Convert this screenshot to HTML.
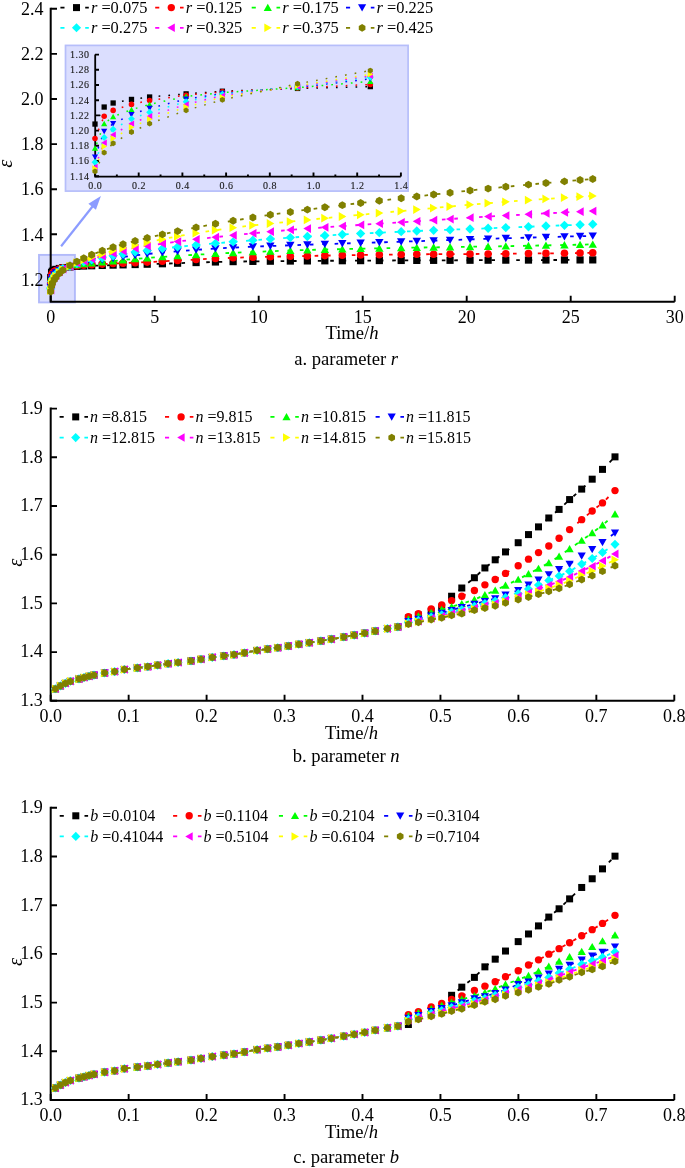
<!DOCTYPE html>
<html><head><meta charset="utf-8"><style>
html,body{margin:0;padding:0;background:#fff;width:685px;height:1168px;overflow:hidden}
svg{display:block;font-family:"Liberation Serif",serif;will-change:transform}
</style></head><body><svg width="685" height="1168" viewBox="0 0 685 1168"><rect x="39" y="254.9" width="35.9" height="47.5" fill="#dbdefe" stroke="#b2bafa" stroke-width="1.9"/><path d="M50.7,7.8V301.7H674.7" fill="none" stroke="#000" stroke-width="2"/><path d="M50.7,8.80h6.3M50.7,53.90h6.3M50.7,99.00h6.3M50.7,144.10h6.3M50.7,189.20h6.3M50.7,234.30h6.3M50.7,279.40h6.3M50.70,301.7v-6M154.70,301.7v-6M258.70,301.7v-6M362.70,301.7v-6M466.70,301.7v-6M570.70,301.7v-6M674.70,301.7v-6" stroke="#000" stroke-width="1.9" fill="none"/><g font-family="Liberation Serif" font-size="18" fill="#000"><text x="43.4" y="15.00" text-anchor="end">2.4</text><text x="43.4" y="60.10" text-anchor="end">2.2</text><text x="43.4" y="105.20" text-anchor="end">2.0</text><text x="43.4" y="150.30" text-anchor="end">1.8</text><text x="43.4" y="195.40" text-anchor="end">1.6</text><text x="43.4" y="240.50" text-anchor="end">1.4</text><text x="43.4" y="285.60" text-anchor="end">1.2</text><text x="50.70" y="323.2" text-anchor="middle">0</text><text x="154.70" y="323.2" text-anchor="middle">5</text><text x="258.70" y="323.2" text-anchor="middle">10</text><text x="362.70" y="323.2" text-anchor="middle">15</text><text x="466.70" y="323.2" text-anchor="middle">20</text><text x="570.70" y="323.2" text-anchor="middle">25</text><text x="674.70" y="323.2" text-anchor="middle">30</text><text x="352" y="339.4" text-anchor="middle" font-size="18.6">Time/<tspan font-style="italic">h</tspan></text><text x="346.1" y="364.6" text-anchor="middle" font-size="18.6">a. parameter <tspan font-style="italic">r</tspan></text><text transform="translate(12,163.8) rotate(-90)" text-anchor="middle" font-style="italic" font-size="20.5">ε</text></g><polyline points="50.70,277.46 51.57,272.41 52.43,271.21 54.17,270.15 55.90,269.43 59.37,268.51 62.83,267.72 69.98,266.88 76.91,266.34 83.77,266.02 91.68,265.74 102.28,265.42 113.10,265.10 123.08,264.84 135.15,264.53 147.21,264.20 162.40,263.73 177.58,263.20 196.09,262.55 215.44,261.97 233.12,261.61 252.88,261.36 270.35,261.19 290.32,261.03 307.37,260.91 324.84,260.80 342.32,260.71 360.62,260.62 379.34,260.53 401.18,260.45 416.78,260.39 433.63,260.34 450.06,260.29 470.03,260.24 488.12,260.19 505.80,260.14 528.48,260.07 545.95,260.02 564.46,259.97 580.06,259.93 592.75,259.89" fill="none" stroke="#000000" stroke-width="1.8" stroke-dasharray="3.6 8.8"/><rect x="47.10" y="273.86" width="7.20" height="7.20" fill="#000000"/><rect x="47.97" y="268.81" width="7.20" height="7.20" fill="#000000"/><rect x="48.83" y="267.61" width="7.20" height="7.20" fill="#000000"/><rect x="50.57" y="266.55" width="7.20" height="7.20" fill="#000000"/><rect x="52.30" y="265.83" width="7.20" height="7.20" fill="#000000"/><rect x="55.77" y="264.91" width="7.20" height="7.20" fill="#000000"/><rect x="59.23" y="264.12" width="7.20" height="7.20" fill="#000000"/><rect x="66.38" y="263.28" width="7.20" height="7.20" fill="#000000"/><rect x="73.31" y="262.74" width="7.20" height="7.20" fill="#000000"/><rect x="80.17" y="262.42" width="7.20" height="7.20" fill="#000000"/><rect x="88.08" y="262.14" width="7.20" height="7.20" fill="#000000"/><rect x="98.68" y="261.82" width="7.20" height="7.20" fill="#000000"/><rect x="109.50" y="261.50" width="7.20" height="7.20" fill="#000000"/><rect x="119.48" y="261.24" width="7.20" height="7.20" fill="#000000"/><rect x="131.55" y="260.93" width="7.20" height="7.20" fill="#000000"/><rect x="143.61" y="260.60" width="7.20" height="7.20" fill="#000000"/><rect x="158.80" y="260.13" width="7.20" height="7.20" fill="#000000"/><rect x="173.98" y="259.60" width="7.20" height="7.20" fill="#000000"/><rect x="192.49" y="258.95" width="7.20" height="7.20" fill="#000000"/><rect x="211.84" y="258.37" width="7.20" height="7.20" fill="#000000"/><rect x="229.52" y="258.01" width="7.20" height="7.20" fill="#000000"/><rect x="249.28" y="257.76" width="7.20" height="7.20" fill="#000000"/><rect x="266.75" y="257.59" width="7.20" height="7.20" fill="#000000"/><rect x="286.72" y="257.43" width="7.20" height="7.20" fill="#000000"/><rect x="303.77" y="257.31" width="7.20" height="7.20" fill="#000000"/><rect x="321.24" y="257.20" width="7.20" height="7.20" fill="#000000"/><rect x="338.72" y="257.11" width="7.20" height="7.20" fill="#000000"/><rect x="357.02" y="257.02" width="7.20" height="7.20" fill="#000000"/><rect x="375.74" y="256.93" width="7.20" height="7.20" fill="#000000"/><rect x="397.58" y="256.85" width="7.20" height="7.20" fill="#000000"/><rect x="413.18" y="256.79" width="7.20" height="7.20" fill="#000000"/><rect x="430.03" y="256.74" width="7.20" height="7.20" fill="#000000"/><rect x="446.46" y="256.69" width="7.20" height="7.20" fill="#000000"/><rect x="466.43" y="256.64" width="7.20" height="7.20" fill="#000000"/><rect x="484.52" y="256.59" width="7.20" height="7.20" fill="#000000"/><rect x="502.20" y="256.54" width="7.20" height="7.20" fill="#000000"/><rect x="524.88" y="256.47" width="7.20" height="7.20" fill="#000000"/><rect x="542.35" y="256.42" width="7.20" height="7.20" fill="#000000"/><rect x="560.86" y="256.37" width="7.20" height="7.20" fill="#000000"/><rect x="576.46" y="256.33" width="7.20" height="7.20" fill="#000000"/><rect x="589.15" y="256.29" width="7.20" height="7.20" fill="#000000"/><polyline points="50.70,281.75 51.57,275.12 52.43,273.40 54.17,271.62 55.90,270.45 59.37,268.89 62.83,267.90 69.98,266.77 76.91,265.71 83.77,265.14 91.68,264.66 102.28,264.11 113.10,263.58 123.08,263.14 135.15,262.64 147.21,262.10 162.40,261.34 177.58,260.50 196.09,259.48 215.44,258.50 233.12,257.80 252.88,257.20 270.35,256.74 290.32,256.29 307.37,255.95 324.84,255.62 342.32,255.30 360.62,254.99 379.34,254.71 401.18,254.44 416.78,254.30 433.63,254.19 450.06,254.11 470.03,254.02 488.12,253.92 505.80,253.78 528.48,253.57 545.95,253.38 564.46,253.17 580.06,252.96 592.75,252.79" fill="none" stroke="#ff0000" stroke-width="1.8" stroke-dasharray="3.6 8.8"/><circle cx="50.70" cy="281.75" r="3.78" fill="#ff0000"/><circle cx="51.57" cy="275.12" r="3.78" fill="#ff0000"/><circle cx="52.43" cy="273.40" r="3.78" fill="#ff0000"/><circle cx="54.17" cy="271.62" r="3.78" fill="#ff0000"/><circle cx="55.90" cy="270.45" r="3.78" fill="#ff0000"/><circle cx="59.37" cy="268.89" r="3.78" fill="#ff0000"/><circle cx="62.83" cy="267.90" r="3.78" fill="#ff0000"/><circle cx="69.98" cy="266.77" r="3.78" fill="#ff0000"/><circle cx="76.91" cy="265.71" r="3.78" fill="#ff0000"/><circle cx="83.77" cy="265.14" r="3.78" fill="#ff0000"/><circle cx="91.68" cy="264.66" r="3.78" fill="#ff0000"/><circle cx="102.28" cy="264.11" r="3.78" fill="#ff0000"/><circle cx="113.10" cy="263.58" r="3.78" fill="#ff0000"/><circle cx="123.08" cy="263.14" r="3.78" fill="#ff0000"/><circle cx="135.15" cy="262.64" r="3.78" fill="#ff0000"/><circle cx="147.21" cy="262.10" r="3.78" fill="#ff0000"/><circle cx="162.40" cy="261.34" r="3.78" fill="#ff0000"/><circle cx="177.58" cy="260.50" r="3.78" fill="#ff0000"/><circle cx="196.09" cy="259.48" r="3.78" fill="#ff0000"/><circle cx="215.44" cy="258.50" r="3.78" fill="#ff0000"/><circle cx="233.12" cy="257.80" r="3.78" fill="#ff0000"/><circle cx="252.88" cy="257.20" r="3.78" fill="#ff0000"/><circle cx="270.35" cy="256.74" r="3.78" fill="#ff0000"/><circle cx="290.32" cy="256.29" r="3.78" fill="#ff0000"/><circle cx="307.37" cy="255.95" r="3.78" fill="#ff0000"/><circle cx="324.84" cy="255.62" r="3.78" fill="#ff0000"/><circle cx="342.32" cy="255.30" r="3.78" fill="#ff0000"/><circle cx="360.62" cy="254.99" r="3.78" fill="#ff0000"/><circle cx="379.34" cy="254.71" r="3.78" fill="#ff0000"/><circle cx="401.18" cy="254.44" r="3.78" fill="#ff0000"/><circle cx="416.78" cy="254.30" r="3.78" fill="#ff0000"/><circle cx="433.63" cy="254.19" r="3.78" fill="#ff0000"/><circle cx="450.06" cy="254.11" r="3.78" fill="#ff0000"/><circle cx="470.03" cy="254.02" r="3.78" fill="#ff0000"/><circle cx="488.12" cy="253.92" r="3.78" fill="#ff0000"/><circle cx="505.80" cy="253.78" r="3.78" fill="#ff0000"/><circle cx="528.48" cy="253.57" r="3.78" fill="#ff0000"/><circle cx="545.95" cy="253.38" r="3.78" fill="#ff0000"/><circle cx="564.46" cy="253.17" r="3.78" fill="#ff0000"/><circle cx="580.06" cy="252.96" r="3.78" fill="#ff0000"/><circle cx="592.75" cy="252.79" r="3.78" fill="#ff0000"/><polyline points="50.70,284.63 51.57,277.37 52.43,275.27 54.17,273.18 55.90,271.62 59.37,269.28 62.83,268.12 69.98,266.66 76.91,264.81 83.77,263.83 91.68,263.01 102.28,262.04 113.10,260.97 123.08,260.02 135.15,258.94 147.21,257.98 162.40,256.89 177.58,255.87 196.09,254.73 215.44,253.66 233.12,252.79 252.88,251.92 270.35,251.22 290.32,250.52 307.37,249.99 324.84,249.53 342.32,249.10 360.62,248.69 379.34,248.31 401.18,247.89 416.78,247.60 433.63,247.32 450.06,247.07 470.03,246.77 488.12,246.48 505.80,246.16 528.48,245.73 545.95,245.38 564.46,245.00 580.06,244.66 592.75,244.38" fill="none" stroke="#00ff00" stroke-width="1.8" stroke-dasharray="3.6 8.8"/><path d="M50.70,280.67L54.91,288.05L46.49,288.05Z" fill="#00ff00"/><path d="M51.57,273.41L55.79,280.79L47.36,280.79Z" fill="#00ff00"/><path d="M52.43,271.31L56.64,278.69L48.21,278.69Z" fill="#00ff00"/><path d="M54.17,269.22L58.39,276.60L49.96,276.60Z" fill="#00ff00"/><path d="M55.90,267.66L60.11,275.04L51.69,275.04Z" fill="#00ff00"/><path d="M59.37,265.32L63.59,272.70L55.16,272.70Z" fill="#00ff00"/><path d="M62.83,264.17L67.04,271.55L58.61,271.55Z" fill="#00ff00"/><path d="M69.98,262.70L74.19,270.08L65.77,270.08Z" fill="#00ff00"/><path d="M76.91,260.85L81.12,268.23L72.70,268.23Z" fill="#00ff00"/><path d="M83.77,259.87L87.98,267.25L79.56,267.25Z" fill="#00ff00"/><path d="M91.68,259.05L95.89,266.43L87.46,266.43Z" fill="#00ff00"/><path d="M102.28,258.08L106.50,265.46L98.07,265.46Z" fill="#00ff00"/><path d="M113.10,257.01L117.31,264.39L108.89,264.39Z" fill="#00ff00"/><path d="M123.08,256.06L127.30,263.44L118.87,263.44Z" fill="#00ff00"/><path d="M135.15,254.98L139.36,262.36L130.94,262.36Z" fill="#00ff00"/><path d="M147.21,254.02L151.42,261.40L143.00,261.40Z" fill="#00ff00"/><path d="M162.40,252.93L166.61,260.31L158.18,260.31Z" fill="#00ff00"/><path d="M177.58,251.91L181.79,259.29L173.37,259.29Z" fill="#00ff00"/><path d="M196.09,250.77L200.30,258.15L191.88,258.15Z" fill="#00ff00"/><path d="M215.44,249.70L219.65,257.08L211.22,257.08Z" fill="#00ff00"/><path d="M233.12,248.83L237.33,256.21L228.90,256.21Z" fill="#00ff00"/><path d="M252.88,247.96L257.09,255.34L248.66,255.34Z" fill="#00ff00"/><path d="M270.35,247.26L274.56,254.64L266.14,254.64Z" fill="#00ff00"/><path d="M290.32,246.56L294.53,253.94L286.10,253.94Z" fill="#00ff00"/><path d="M307.37,246.03L311.58,253.41L303.16,253.41Z" fill="#00ff00"/><path d="M324.84,245.57L329.06,252.95L320.63,252.95Z" fill="#00ff00"/><path d="M342.32,245.14L346.53,252.52L338.10,252.52Z" fill="#00ff00"/><path d="M360.62,244.73L364.83,252.11L356.41,252.11Z" fill="#00ff00"/><path d="M379.34,244.35L383.55,251.73L375.13,251.73Z" fill="#00ff00"/><path d="M401.18,243.93L405.39,251.31L396.97,251.31Z" fill="#00ff00"/><path d="M416.78,243.64L420.99,251.02L412.57,251.02Z" fill="#00ff00"/><path d="M433.63,243.36L437.84,250.74L429.42,250.74Z" fill="#00ff00"/><path d="M450.06,243.11L454.27,250.49L445.85,250.49Z" fill="#00ff00"/><path d="M470.03,242.81L474.24,250.19L465.82,250.19Z" fill="#00ff00"/><path d="M488.12,242.52L492.34,249.90L483.91,249.90Z" fill="#00ff00"/><path d="M505.80,242.20L510.02,249.58L501.59,249.58Z" fill="#00ff00"/><path d="M528.48,241.77L532.69,249.15L524.26,249.15Z" fill="#00ff00"/><path d="M545.95,241.42L550.16,248.80L541.74,248.80Z" fill="#00ff00"/><path d="M564.46,241.04L568.67,248.42L560.25,248.42Z" fill="#00ff00"/><path d="M580.06,240.70L584.27,248.08L575.85,248.08Z" fill="#00ff00"/><path d="M592.75,240.42L596.96,247.80L588.54,247.80Z" fill="#00ff00"/><polyline points="50.70,287.20 51.57,279.63 52.43,277.33 54.17,274.60 55.90,272.79 59.37,270.06 62.83,268.35 69.98,266.55 76.91,264.07 83.77,262.63 91.68,261.38 102.28,259.89 113.10,258.31 123.08,256.90 135.15,255.34 147.21,254.01 162.40,252.59 177.58,251.29 196.09,249.87 215.44,248.59 233.12,247.60 252.88,246.69 270.35,246.00 290.32,245.29 307.37,244.70 324.84,244.10 342.32,243.53 360.62,242.96 379.34,242.38 401.18,241.70 416.78,241.20 433.63,240.63 450.06,240.07 470.03,239.39 488.12,238.81 505.80,238.28 528.48,237.61 545.95,237.12 564.46,236.62 580.06,236.22 592.75,235.90" fill="none" stroke="#0000ff" stroke-width="1.8" stroke-dasharray="3.6 8.8"/><path d="M50.70,291.16L54.91,283.78L46.49,283.78Z" fill="#0000ff"/><path d="M51.57,283.59L55.79,276.21L47.36,276.21Z" fill="#0000ff"/><path d="M52.43,281.29L56.64,273.91L48.21,273.91Z" fill="#0000ff"/><path d="M54.17,278.56L58.39,271.18L49.96,271.18Z" fill="#0000ff"/><path d="M55.90,276.75L60.11,269.37L51.69,269.37Z" fill="#0000ff"/><path d="M59.37,274.02L63.59,266.64L55.16,266.64Z" fill="#0000ff"/><path d="M62.83,272.31L67.04,264.93L58.61,264.93Z" fill="#0000ff"/><path d="M69.98,270.51L74.19,263.13L65.77,263.13Z" fill="#0000ff"/><path d="M76.91,268.03L81.12,260.65L72.70,260.65Z" fill="#0000ff"/><path d="M83.77,266.59L87.98,259.21L79.56,259.21Z" fill="#0000ff"/><path d="M91.68,265.34L95.89,257.96L87.46,257.96Z" fill="#0000ff"/><path d="M102.28,263.85L106.50,256.47L98.07,256.47Z" fill="#0000ff"/><path d="M113.10,262.27L117.31,254.89L108.89,254.89Z" fill="#0000ff"/><path d="M123.08,260.86L127.30,253.48L118.87,253.48Z" fill="#0000ff"/><path d="M135.15,259.30L139.36,251.92L130.94,251.92Z" fill="#0000ff"/><path d="M147.21,257.97L151.42,250.59L143.00,250.59Z" fill="#0000ff"/><path d="M162.40,256.55L166.61,249.17L158.18,249.17Z" fill="#0000ff"/><path d="M177.58,255.25L181.79,247.87L173.37,247.87Z" fill="#0000ff"/><path d="M196.09,253.83L200.30,246.45L191.88,246.45Z" fill="#0000ff"/><path d="M215.44,252.55L219.65,245.17L211.22,245.17Z" fill="#0000ff"/><path d="M233.12,251.56L237.33,244.18L228.90,244.18Z" fill="#0000ff"/><path d="M252.88,250.65L257.09,243.27L248.66,243.27Z" fill="#0000ff"/><path d="M270.35,249.96L274.56,242.58L266.14,242.58Z" fill="#0000ff"/><path d="M290.32,249.25L294.53,241.87L286.10,241.87Z" fill="#0000ff"/><path d="M307.37,248.66L311.58,241.28L303.16,241.28Z" fill="#0000ff"/><path d="M324.84,248.06L329.06,240.68L320.63,240.68Z" fill="#0000ff"/><path d="M342.32,247.49L346.53,240.11L338.10,240.11Z" fill="#0000ff"/><path d="M360.62,246.92L364.83,239.54L356.41,239.54Z" fill="#0000ff"/><path d="M379.34,246.34L383.55,238.96L375.13,238.96Z" fill="#0000ff"/><path d="M401.18,245.66L405.39,238.28L396.97,238.28Z" fill="#0000ff"/><path d="M416.78,245.16L420.99,237.78L412.57,237.78Z" fill="#0000ff"/><path d="M433.63,244.59L437.84,237.21L429.42,237.21Z" fill="#0000ff"/><path d="M450.06,244.03L454.27,236.65L445.85,236.65Z" fill="#0000ff"/><path d="M470.03,243.35L474.24,235.97L465.82,235.97Z" fill="#0000ff"/><path d="M488.12,242.77L492.34,235.39L483.91,235.39Z" fill="#0000ff"/><path d="M505.80,242.24L510.02,234.86L501.59,234.86Z" fill="#0000ff"/><path d="M528.48,241.57L532.69,234.19L524.26,234.19Z" fill="#0000ff"/><path d="M545.95,241.08L550.16,233.70L541.74,233.70Z" fill="#0000ff"/><path d="M564.46,240.58L568.67,233.20L560.25,233.20Z" fill="#0000ff"/><path d="M580.06,240.18L584.27,232.80L575.85,232.80Z" fill="#0000ff"/><path d="M592.75,239.86L596.96,232.48L588.54,232.48Z" fill="#0000ff"/><polyline points="50.70,288.78 51.57,281.43 52.43,279.02 54.17,275.90 55.90,273.97 59.37,270.83 62.83,268.58 69.98,266.32 76.91,263.61 83.77,261.71 91.68,259.88 102.28,257.75 113.10,255.72 123.08,253.97 135.15,252.07 147.21,250.40 162.40,248.56 177.58,246.90 196.09,245.06 215.44,243.31 233.12,241.81 252.88,240.23 270.35,238.94 290.32,237.57 307.37,236.51 324.84,235.50 342.32,234.54 360.62,233.60 379.34,232.69 401.18,231.69 416.78,231.01 433.63,230.32 450.06,229.70 470.03,228.98 488.12,228.30 505.80,227.62 528.48,226.74 545.95,226.05 564.46,225.32 580.06,224.70 592.75,224.20" fill="none" stroke="#00ffff" stroke-width="1.8" stroke-dasharray="3.6 8.8"/><path d="M50.70,284.10L55.38,288.78L50.70,293.46L46.02,288.78Z" fill="#00ffff"/><path d="M51.57,276.75L56.25,281.43L51.57,286.11L46.89,281.43Z" fill="#00ffff"/><path d="M52.43,274.34L57.11,279.02L52.43,283.70L47.75,279.02Z" fill="#00ffff"/><path d="M54.17,271.22L58.85,275.90L54.17,280.58L49.49,275.90Z" fill="#00ffff"/><path d="M55.90,269.29L60.58,273.97L55.90,278.65L51.22,273.97Z" fill="#00ffff"/><path d="M59.37,266.15L64.05,270.83L59.37,275.51L54.69,270.83Z" fill="#00ffff"/><path d="M62.83,263.90L67.51,268.58L62.83,273.26L58.15,268.58Z" fill="#00ffff"/><path d="M69.98,261.64L74.66,266.32L69.98,271.00L65.30,266.32Z" fill="#00ffff"/><path d="M76.91,258.93L81.59,263.61L76.91,268.29L72.23,263.61Z" fill="#00ffff"/><path d="M83.77,257.03L88.45,261.71L83.77,266.39L79.09,261.71Z" fill="#00ffff"/><path d="M91.68,255.20L96.36,259.88L91.68,264.56L87.00,259.88Z" fill="#00ffff"/><path d="M102.28,253.07L106.96,257.75L102.28,262.43L97.60,257.75Z" fill="#00ffff"/><path d="M113.10,251.04L117.78,255.72L113.10,260.40L108.42,255.72Z" fill="#00ffff"/><path d="M123.08,249.29L127.76,253.97L123.08,258.65L118.40,253.97Z" fill="#00ffff"/><path d="M135.15,247.39L139.83,252.07L135.15,256.75L130.47,252.07Z" fill="#00ffff"/><path d="M147.21,245.72L151.89,250.40L147.21,255.08L142.53,250.40Z" fill="#00ffff"/><path d="M162.40,243.88L167.08,248.56L162.40,253.24L157.72,248.56Z" fill="#00ffff"/><path d="M177.58,242.22L182.26,246.90L177.58,251.58L172.90,246.90Z" fill="#00ffff"/><path d="M196.09,240.38L200.77,245.06L196.09,249.74L191.41,245.06Z" fill="#00ffff"/><path d="M215.44,238.63L220.12,243.31L215.44,247.99L210.76,243.31Z" fill="#00ffff"/><path d="M233.12,237.13L237.80,241.81L233.12,246.49L228.44,241.81Z" fill="#00ffff"/><path d="M252.88,235.55L257.56,240.23L252.88,244.91L248.20,240.23Z" fill="#00ffff"/><path d="M270.35,234.26L275.03,238.94L270.35,243.62L265.67,238.94Z" fill="#00ffff"/><path d="M290.32,232.89L295.00,237.57L290.32,242.25L285.64,237.57Z" fill="#00ffff"/><path d="M307.37,231.83L312.05,236.51L307.37,241.19L302.69,236.51Z" fill="#00ffff"/><path d="M324.84,230.82L329.52,235.50L324.84,240.18L320.16,235.50Z" fill="#00ffff"/><path d="M342.32,229.86L347.00,234.54L342.32,239.22L337.64,234.54Z" fill="#00ffff"/><path d="M360.62,228.92L365.30,233.60L360.62,238.28L355.94,233.60Z" fill="#00ffff"/><path d="M379.34,228.01L384.02,232.69L379.34,237.37L374.66,232.69Z" fill="#00ffff"/><path d="M401.18,227.01L405.86,231.69L401.18,236.37L396.50,231.69Z" fill="#00ffff"/><path d="M416.78,226.33L421.46,231.01L416.78,235.69L412.10,231.01Z" fill="#00ffff"/><path d="M433.63,225.64L438.31,230.32L433.63,235.00L428.95,230.32Z" fill="#00ffff"/><path d="M450.06,225.02L454.74,229.70L450.06,234.38L445.38,229.70Z" fill="#00ffff"/><path d="M470.03,224.30L474.71,228.98L470.03,233.66L465.35,228.98Z" fill="#00ffff"/><path d="M488.12,223.62L492.80,228.30L488.12,232.98L483.44,228.30Z" fill="#00ffff"/><path d="M505.80,222.94L510.48,227.62L505.80,232.30L501.12,227.62Z" fill="#00ffff"/><path d="M528.48,222.06L533.16,226.74L528.48,231.42L523.80,226.74Z" fill="#00ffff"/><path d="M545.95,221.37L550.63,226.05L545.95,230.73L541.27,226.05Z" fill="#00ffff"/><path d="M564.46,220.64L569.14,225.32L564.46,230.00L559.78,225.32Z" fill="#00ffff"/><path d="M580.06,220.02L584.74,224.70L580.06,229.38L575.38,224.70Z" fill="#00ffff"/><path d="M592.75,219.52L597.43,224.20L592.75,228.88L588.07,224.20Z" fill="#00ffff"/><polyline points="50.70,290.18 51.57,283.01 52.43,280.60 54.17,277.33 55.90,275.12 59.37,271.62 62.83,269.03 69.98,266.32 76.91,263.16 83.77,260.93 91.68,258.79 102.28,256.17 113.10,253.46 123.08,251.02 135.15,248.31 147.21,246.03 162.40,243.66 177.58,241.57 196.09,239.30 215.44,237.15 233.12,235.29 252.88,233.31 270.35,231.68 290.32,229.96 307.37,228.59 324.84,227.29 342.32,226.08 360.62,224.88 379.34,223.69 401.18,222.30 416.78,221.29 433.63,220.16 450.06,219.04 470.03,217.72 488.12,216.60 505.80,215.57 528.48,214.31 545.95,213.37 564.46,212.43 580.06,211.68 592.75,211.10" fill="none" stroke="#ff00ff" stroke-width="1.8" stroke-dasharray="3.6 8.8"/><path d="M46.67,290.18L54.30,285.79L54.30,294.57Z" fill="#ff00ff"/><path d="M47.54,283.01L55.17,278.62L55.17,287.40Z" fill="#ff00ff"/><path d="M48.39,280.60L56.03,276.20L56.03,284.99Z" fill="#ff00ff"/><path d="M50.14,277.33L57.77,272.93L57.77,281.72Z" fill="#ff00ff"/><path d="M51.87,275.12L59.50,270.72L59.50,279.51Z" fill="#ff00ff"/><path d="M55.34,271.62L62.97,267.23L62.97,276.01Z" fill="#ff00ff"/><path d="M58.79,269.03L66.43,264.63L66.43,273.42Z" fill="#ff00ff"/><path d="M65.95,266.32L73.58,261.93L73.58,270.71Z" fill="#ff00ff"/><path d="M72.88,263.16L80.51,258.77L80.51,267.56Z" fill="#ff00ff"/><path d="M79.74,260.93L87.37,256.54L87.37,265.32Z" fill="#ff00ff"/><path d="M87.64,258.79L95.28,254.40L95.28,263.18Z" fill="#ff00ff"/><path d="M98.25,256.17L105.88,251.78L105.88,260.57Z" fill="#ff00ff"/><path d="M109.07,253.46L116.70,249.07L116.70,257.85Z" fill="#ff00ff"/><path d="M119.05,251.02L126.68,246.63L126.68,255.41Z" fill="#ff00ff"/><path d="M131.12,248.31L138.75,243.91L138.75,252.70Z" fill="#ff00ff"/><path d="M143.18,246.03L150.81,241.63L150.81,250.42Z" fill="#ff00ff"/><path d="M158.36,243.66L166.00,239.27L166.00,248.05Z" fill="#ff00ff"/><path d="M173.55,241.57L181.18,237.18L181.18,245.96Z" fill="#ff00ff"/><path d="M192.06,239.30L199.69,234.91L199.69,243.69Z" fill="#ff00ff"/><path d="M211.40,237.15L219.04,232.76L219.04,241.55Z" fill="#ff00ff"/><path d="M229.08,235.29L236.72,230.90L236.72,239.68Z" fill="#ff00ff"/><path d="M248.84,233.31L256.48,228.92L256.48,237.70Z" fill="#ff00ff"/><path d="M266.32,231.68L273.95,227.29L273.95,236.08Z" fill="#ff00ff"/><path d="M286.28,229.96L293.92,225.57L293.92,234.35Z" fill="#ff00ff"/><path d="M303.34,228.59L310.97,224.20L310.97,232.99Z" fill="#ff00ff"/><path d="M320.81,227.29L328.44,222.90L328.44,231.69Z" fill="#ff00ff"/><path d="M338.28,226.08L345.92,221.69L345.92,230.48Z" fill="#ff00ff"/><path d="M356.59,224.88L364.22,220.49L364.22,229.27Z" fill="#ff00ff"/><path d="M375.31,223.69L382.94,219.30L382.94,228.08Z" fill="#ff00ff"/><path d="M397.15,222.30L404.78,217.91L404.78,226.70Z" fill="#ff00ff"/><path d="M412.75,221.29L420.38,216.90L420.38,225.68Z" fill="#ff00ff"/><path d="M429.60,220.16L437.23,215.76L437.23,224.55Z" fill="#ff00ff"/><path d="M446.03,219.04L453.66,214.65L453.66,223.43Z" fill="#ff00ff"/><path d="M466.00,217.72L473.63,213.32L473.63,222.11Z" fill="#ff00ff"/><path d="M484.09,216.60L491.72,212.21L491.72,220.99Z" fill="#ff00ff"/><path d="M501.77,215.57L509.40,211.18L509.40,219.96Z" fill="#ff00ff"/><path d="M524.44,214.31L532.08,209.91L532.08,218.70Z" fill="#ff00ff"/><path d="M541.92,213.37L549.55,208.98L549.55,217.77Z" fill="#ff00ff"/><path d="M560.43,212.43L568.06,208.04L568.06,216.82Z" fill="#ff00ff"/><path d="M576.03,211.68L583.66,207.29L583.66,216.07Z" fill="#ff00ff"/><path d="M588.72,211.10L596.35,206.70L596.35,215.49Z" fill="#ff00ff"/><polyline points="50.70,290.68 51.57,284.14 52.43,281.75 54.17,278.39 55.90,276.04 59.37,272.41 62.83,269.48 69.98,266.10 76.91,262.71 83.77,260.03 91.68,257.30 102.28,254.01 113.10,250.85 123.08,248.10 135.15,245.03 147.21,242.31 162.40,239.22 177.58,236.34 196.09,233.13 215.44,230.13 233.12,227.69 252.88,225.34 270.35,223.51 290.32,221.55 307.37,219.89 324.84,218.17 342.32,216.50 360.62,214.78 379.34,213.04 401.18,211.04 416.78,209.61 433.63,208.04 450.06,206.50 470.03,204.69 488.12,203.18 505.80,201.81 528.48,200.13 545.95,198.90 564.46,197.67 580.06,196.70 592.75,195.97" fill="none" stroke="#ffff00" stroke-width="1.8" stroke-dasharray="3.6 8.8"/><path d="M54.73,290.68L47.10,286.28L47.10,295.07Z" fill="#ffff00"/><path d="M55.61,284.14L47.97,279.74L47.97,288.53Z" fill="#ffff00"/><path d="M56.46,281.75L48.83,277.35L48.83,286.14Z" fill="#ffff00"/><path d="M58.21,278.39L50.57,273.99L50.57,282.78Z" fill="#ffff00"/><path d="M59.93,276.04L52.30,271.65L52.30,280.43Z" fill="#ffff00"/><path d="M63.41,272.41L55.77,268.02L55.77,276.80Z" fill="#ffff00"/><path d="M66.86,269.48L59.23,265.09L59.23,273.87Z" fill="#ffff00"/><path d="M74.01,266.10L66.38,261.70L66.38,270.49Z" fill="#ffff00"/><path d="M80.94,262.71L73.31,258.32L73.31,267.10Z" fill="#ffff00"/><path d="M87.80,260.03L80.17,255.64L80.17,264.42Z" fill="#ffff00"/><path d="M95.71,257.30L88.08,252.91L88.08,261.69Z" fill="#ffff00"/><path d="M106.32,254.01L98.68,249.62L98.68,258.40Z" fill="#ffff00"/><path d="M117.13,250.85L109.50,246.45L109.50,255.24Z" fill="#ffff00"/><path d="M127.12,248.10L119.48,243.70L119.48,252.49Z" fill="#ffff00"/><path d="M139.18,245.03L131.55,240.64L131.55,249.42Z" fill="#ffff00"/><path d="M151.24,242.31L143.61,237.91L143.61,246.70Z" fill="#ffff00"/><path d="M166.43,239.22L158.80,234.83L158.80,243.61Z" fill="#ffff00"/><path d="M181.61,236.34L173.98,231.95L173.98,240.74Z" fill="#ffff00"/><path d="M200.12,233.13L192.49,228.74L192.49,237.53Z" fill="#ffff00"/><path d="M219.47,230.13L211.84,225.74L211.84,234.52Z" fill="#ffff00"/><path d="M237.15,227.69L229.52,223.30L229.52,232.08Z" fill="#ffff00"/><path d="M256.91,225.34L249.28,220.95L249.28,229.73Z" fill="#ffff00"/><path d="M274.38,223.51L266.75,219.11L266.75,227.90Z" fill="#ffff00"/><path d="M294.35,221.55L286.72,217.16L286.72,225.95Z" fill="#ffff00"/><path d="M311.40,219.89L303.77,215.50L303.77,224.28Z" fill="#ffff00"/><path d="M328.88,218.17L321.24,213.78L321.24,222.57Z" fill="#ffff00"/><path d="M346.35,216.50L338.72,212.11L338.72,220.89Z" fill="#ffff00"/><path d="M364.65,214.78L357.02,210.39L357.02,219.17Z" fill="#ffff00"/><path d="M383.37,213.04L375.74,208.65L375.74,217.44Z" fill="#ffff00"/><path d="M405.21,211.04L397.58,206.65L397.58,215.43Z" fill="#ffff00"/><path d="M420.81,209.61L413.18,205.22L413.18,214.00Z" fill="#ffff00"/><path d="M437.66,208.04L430.03,203.65L430.03,212.43Z" fill="#ffff00"/><path d="M454.09,206.50L446.46,202.11L446.46,210.89Z" fill="#ffff00"/><path d="M474.06,204.69L466.43,200.30L466.43,209.08Z" fill="#ffff00"/><path d="M492.16,203.18L484.52,198.79L484.52,207.57Z" fill="#ffff00"/><path d="M509.84,201.81L502.20,197.42L502.20,206.20Z" fill="#ffff00"/><path d="M532.51,200.13L524.88,195.74L524.88,204.52Z" fill="#ffff00"/><path d="M549.98,198.90L542.35,194.51L542.35,203.29Z" fill="#ffff00"/><path d="M568.49,197.67L560.86,193.28L560.86,202.06Z" fill="#ffff00"/><path d="M584.09,196.70L576.46,192.31L576.46,201.10Z" fill="#ffff00"/><path d="M596.78,195.97L589.15,191.57L589.15,200.36Z" fill="#ffff00"/><polyline points="50.70,291.51 51.57,285.94 52.43,283.17 54.17,279.81 55.90,277.33 59.37,273.40 62.83,270.27 69.98,265.51 76.91,261.59 83.77,258.28 91.68,254.82 102.28,250.76 113.10,247.18 123.08,244.20 135.15,240.91 147.21,237.91 162.40,234.39 177.58,231.11 196.09,227.40 215.44,223.80 233.12,220.70 252.88,217.47 270.35,214.80 290.32,211.94 307.37,209.61 324.84,207.33 342.32,205.16 360.62,202.97 379.34,200.79 401.18,198.29 416.78,196.51 433.63,194.57 450.06,192.69 470.03,190.48 488.12,188.59 505.80,186.83 528.48,184.64 545.95,183.02 564.46,181.37 580.06,180.04 592.75,179.01" fill="none" stroke="#808000" stroke-width="1.8" stroke-dasharray="3.6 8.8"/><path d="M50.70,287.55L54.13,289.53L54.13,293.49L50.70,295.47L47.27,293.49L47.27,289.53Z" fill="#808000"/><path d="M51.57,281.98L55.00,283.96L55.00,287.92L51.57,289.90L48.14,287.92L48.14,283.96Z" fill="#808000"/><path d="M52.43,279.21L55.86,281.19L55.86,285.15L52.43,287.13L49.00,285.15L49.00,281.19Z" fill="#808000"/><path d="M54.17,275.85L57.60,277.83L57.60,281.79L54.17,283.77L50.74,281.79L50.74,277.83Z" fill="#808000"/><path d="M55.90,273.37L59.33,275.35L59.33,279.31L55.90,281.29L52.47,279.31L52.47,275.35Z" fill="#808000"/><path d="M59.37,269.44L62.80,271.42L62.80,275.38L59.37,277.36L55.94,275.38L55.94,271.42Z" fill="#808000"/><path d="M62.83,266.31L66.26,268.29L66.26,272.25L62.83,274.23L59.40,272.25L59.40,268.29Z" fill="#808000"/><path d="M69.98,261.55L73.41,263.53L73.41,267.49L69.98,269.47L66.55,267.49L66.55,263.53Z" fill="#808000"/><path d="M76.91,257.63L80.34,259.61L80.34,263.57L76.91,265.55L73.48,263.57L73.48,259.61Z" fill="#808000"/><path d="M83.77,254.32L87.20,256.30L87.20,260.26L83.77,262.24L80.34,260.26L80.34,256.30Z" fill="#808000"/><path d="M91.68,250.86L95.11,252.84L95.11,256.80L91.68,258.78L88.25,256.80L88.25,252.84Z" fill="#808000"/><path d="M102.28,246.80L105.71,248.78L105.71,252.74L102.28,254.72L98.85,252.74L98.85,248.78Z" fill="#808000"/><path d="M113.10,243.22L116.53,245.20L116.53,249.16L113.10,251.14L109.67,249.16L109.67,245.20Z" fill="#808000"/><path d="M123.08,240.24L126.51,242.22L126.51,246.18L123.08,248.16L119.65,246.18L119.65,242.22Z" fill="#808000"/><path d="M135.15,236.95L138.58,238.93L138.58,242.89L135.15,244.87L131.72,242.89L131.72,238.93Z" fill="#808000"/><path d="M147.21,233.95L150.64,235.93L150.64,239.89L147.21,241.87L143.78,239.89L143.78,235.93Z" fill="#808000"/><path d="M162.40,230.43L165.83,232.41L165.83,236.37L162.40,238.35L158.97,236.37L158.97,232.41Z" fill="#808000"/><path d="M177.58,227.15L181.01,229.13L181.01,233.09L177.58,235.07L174.15,233.09L174.15,229.13Z" fill="#808000"/><path d="M196.09,223.44L199.52,225.42L199.52,229.38L196.09,231.36L192.66,229.38L192.66,225.42Z" fill="#808000"/><path d="M215.44,219.84L218.87,221.82L218.87,225.78L215.44,227.76L212.01,225.78L212.01,221.82Z" fill="#808000"/><path d="M233.12,216.74L236.55,218.72L236.55,222.68L233.12,224.66L229.69,222.68L229.69,218.72Z" fill="#808000"/><path d="M252.88,213.51L256.31,215.49L256.31,219.45L252.88,221.43L249.45,219.45L249.45,215.49Z" fill="#808000"/><path d="M270.35,210.84L273.78,212.82L273.78,216.78L270.35,218.76L266.92,216.78L266.92,212.82Z" fill="#808000"/><path d="M290.32,207.98L293.75,209.96L293.75,213.92L290.32,215.90L286.89,213.92L286.89,209.96Z" fill="#808000"/><path d="M307.37,205.65L310.80,207.63L310.80,211.59L307.37,213.57L303.94,211.59L303.94,207.63Z" fill="#808000"/><path d="M324.84,203.37L328.27,205.35L328.27,209.31L324.84,211.29L321.41,209.31L321.41,205.35Z" fill="#808000"/><path d="M342.32,201.20L345.75,203.18L345.75,207.14L342.32,209.12L338.89,207.14L338.89,203.18Z" fill="#808000"/><path d="M360.62,199.01L364.05,200.99L364.05,204.95L360.62,206.93L357.19,204.95L357.19,200.99Z" fill="#808000"/><path d="M379.34,196.83L382.77,198.81L382.77,202.77L379.34,204.75L375.91,202.77L375.91,198.81Z" fill="#808000"/><path d="M401.18,194.33L404.61,196.31L404.61,200.27L401.18,202.25L397.75,200.27L397.75,196.31Z" fill="#808000"/><path d="M416.78,192.55L420.21,194.53L420.21,198.49L416.78,200.47L413.35,198.49L413.35,194.53Z" fill="#808000"/><path d="M433.63,190.61L437.06,192.59L437.06,196.55L433.63,198.53L430.20,196.55L430.20,192.59Z" fill="#808000"/><path d="M450.06,188.73L453.49,190.71L453.49,194.67L450.06,196.65L446.63,194.67L446.63,190.71Z" fill="#808000"/><path d="M470.03,186.52L473.46,188.50L473.46,192.46L470.03,194.44L466.60,192.46L466.60,188.50Z" fill="#808000"/><path d="M488.12,184.63L491.55,186.61L491.55,190.57L488.12,192.55L484.69,190.57L484.69,186.61Z" fill="#808000"/><path d="M505.80,182.87L509.23,184.85L509.23,188.81L505.80,190.79L502.37,188.81L502.37,184.85Z" fill="#808000"/><path d="M528.48,180.68L531.91,182.66L531.91,186.62L528.48,188.60L525.05,186.62L525.05,182.66Z" fill="#808000"/><path d="M545.95,179.06L549.38,181.04L549.38,185.00L545.95,186.98L542.52,185.00L542.52,181.04Z" fill="#808000"/><path d="M564.46,177.41L567.89,179.39L567.89,183.35L564.46,185.33L561.03,183.35L561.03,179.39Z" fill="#808000"/><path d="M580.06,176.08L583.49,178.06L583.49,182.02L580.06,184.00L576.63,182.02L576.63,178.06Z" fill="#808000"/><path d="M592.75,175.05L596.18,177.03L596.18,180.99L592.75,182.97L589.32,180.99L589.32,177.03Z" fill="#808000"/><rect x="65.5" y="45.4" width="342.6" height="145.7" fill="#dbdefe" stroke="#b6befa" stroke-width="1.7"/><path d="M95.2,54.6V176.6H400.8" fill="none" stroke="#000" stroke-width="1.8"/><path d="M95,54.60h4M95,69.80h4M95,85.00h4M95,100.20h4M95,115.40h4M95,130.60h4M95,145.80h4M95,161.00h4M95,176.20h4M95.00,176.6v-4M138.70,176.6v-4M182.40,176.6v-4M226.10,176.6v-4M269.80,176.6v-4M313.50,176.6v-4M357.20,176.6v-4M400.90,176.6v-4M116.85,176.6v-2M160.55,176.6v-2M204.25,176.6v-2M247.95,176.6v-2M291.65,176.6v-2M335.35,176.6v-2M379.05,176.6v-2" stroke="#000" stroke-width="1.9" fill="none"/><g font-family="Liberation Serif" font-size="10" letter-spacing="0.5" fill="#1a1a1a" stroke="#1a1a1a" stroke-width="0.12"><text x="89.6" y="58.00" text-anchor="end">1.30</text><text x="89.6" y="73.20" text-anchor="end">1.28</text><text x="89.6" y="88.40" text-anchor="end">1.26</text><text x="89.6" y="103.60" text-anchor="end">1.24</text><text x="89.6" y="118.80" text-anchor="end">1.22</text><text x="89.6" y="134.00" text-anchor="end">1.20</text><text x="89.6" y="149.20" text-anchor="end">1.18</text><text x="89.6" y="164.40" text-anchor="end">1.16</text><text x="89.6" y="179.60" text-anchor="end">1.14</text><text x="95.30" y="189.2" text-anchor="middle">0.0</text><text x="139.00" y="189.2" text-anchor="middle">0.2</text><text x="182.70" y="189.2" text-anchor="middle">0.4</text><text x="226.40" y="189.2" text-anchor="middle">0.6</text><text x="270.10" y="189.2" text-anchor="middle">0.8</text><text x="313.80" y="189.2" text-anchor="middle">1.0</text><text x="357.50" y="189.2" text-anchor="middle">1.2</text><text x="401.20" y="189.2" text-anchor="middle">1.4</text></g><line x1="95.00" y1="124.06" x2="104.18" y2="107.04" stroke="#000000" stroke-width="1.5" stroke-dasharray="1.7 8.100000000000001" stroke-dashoffset="0.80"/><line x1="104.18" y1="107.04" x2="113.14" y2="103.01" stroke="#000000" stroke-width="1.5" stroke-dasharray="1.7 8.100000000000001" stroke-dashoffset="0.80"/><line x1="113.14" y1="103.01" x2="131.49" y2="99.44" stroke="#000000" stroke-width="1.5" stroke-dasharray="1.7 8.100000000000001" stroke-dashoffset="0.80"/><line x1="131.49" y1="99.44" x2="149.62" y2="97.01" stroke="#000000" stroke-width="1.5" stroke-dasharray="1.7 8.100000000000001" stroke-dashoffset="0.80"/><line x1="149.62" y1="97.01" x2="186.11" y2="93.89" stroke="#000000" stroke-width="1.5" stroke-dasharray="1.7 8.100000000000001" stroke-dashoffset="0.80"/><line x1="186.11" y1="93.89" x2="222.39" y2="91.23" stroke="#000000" stroke-width="1.5" stroke-dasharray="1.7 8.100000000000001" stroke-dashoffset="0.80"/><line x1="222.39" y1="91.23" x2="297.55" y2="88.42" stroke="#000000" stroke-width="1.5" stroke-dasharray="1.7 8.100000000000001" stroke-dashoffset="0.80"/><line x1="297.55" y1="88.42" x2="370.31" y2="86.60" stroke="#000000" stroke-width="1.5" stroke-dasharray="1.7 8.100000000000001" stroke-dashoffset="0.80"/><rect x="92.35" y="121.41" width="5.30" height="5.30" fill="#000000"/><rect x="101.53" y="104.39" width="5.30" height="5.30" fill="#000000"/><rect x="110.49" y="100.36" width="5.30" height="5.30" fill="#000000"/><rect x="128.84" y="96.79" width="5.30" height="5.30" fill="#000000"/><rect x="146.97" y="94.36" width="5.30" height="5.30" fill="#000000"/><rect x="183.46" y="91.24" width="5.30" height="5.30" fill="#000000"/><rect x="219.74" y="88.58" width="5.30" height="5.30" fill="#000000"/><rect x="294.90" y="85.77" width="5.30" height="5.30" fill="#000000"/><rect x="367.66" y="83.95" width="5.30" height="5.30" fill="#000000"/><line x1="95.00" y1="138.50" x2="104.18" y2="116.16" stroke="#ff0000" stroke-width="1.5" stroke-dasharray="1.7 8.100000000000001" stroke-dashoffset="0.80"/><line x1="104.18" y1="116.16" x2="113.14" y2="110.38" stroke="#ff0000" stroke-width="1.5" stroke-dasharray="1.7 8.100000000000001" stroke-dashoffset="0.80"/><line x1="113.14" y1="110.38" x2="131.49" y2="104.38" stroke="#ff0000" stroke-width="1.5" stroke-dasharray="1.7 8.100000000000001" stroke-dashoffset="0.80"/><line x1="131.49" y1="104.38" x2="149.62" y2="100.43" stroke="#ff0000" stroke-width="1.5" stroke-dasharray="1.7 8.100000000000001" stroke-dashoffset="0.80"/><line x1="149.62" y1="100.43" x2="186.11" y2="95.18" stroke="#ff0000" stroke-width="1.5" stroke-dasharray="1.7 8.100000000000001" stroke-dashoffset="0.80"/><line x1="186.11" y1="95.18" x2="222.39" y2="91.84" stroke="#ff0000" stroke-width="1.5" stroke-dasharray="1.7 8.100000000000001" stroke-dashoffset="0.80"/><line x1="222.39" y1="91.84" x2="297.55" y2="88.04" stroke="#ff0000" stroke-width="1.5" stroke-dasharray="1.7 8.100000000000001" stroke-dashoffset="0.80"/><line x1="297.55" y1="88.04" x2="370.31" y2="84.47" stroke="#ff0000" stroke-width="1.5" stroke-dasharray="1.7 8.100000000000001" stroke-dashoffset="0.80"/><circle cx="95.00" cy="138.50" r="2.78" fill="#ff0000"/><circle cx="104.18" cy="116.16" r="2.78" fill="#ff0000"/><circle cx="113.14" cy="110.38" r="2.78" fill="#ff0000"/><circle cx="131.49" cy="104.38" r="2.78" fill="#ff0000"/><circle cx="149.62" cy="100.43" r="2.78" fill="#ff0000"/><circle cx="186.11" cy="95.18" r="2.78" fill="#ff0000"/><circle cx="222.39" cy="91.84" r="2.78" fill="#ff0000"/><circle cx="297.55" cy="88.04" r="2.78" fill="#ff0000"/><circle cx="370.31" cy="84.47" r="2.78" fill="#ff0000"/><line x1="95.00" y1="148.23" x2="104.18" y2="123.76" stroke="#00ff00" stroke-width="1.5" stroke-dasharray="1.7 8.100000000000001" stroke-dashoffset="5.30"/><line x1="104.18" y1="123.76" x2="113.14" y2="116.69" stroke="#00ff00" stroke-width="1.5" stroke-dasharray="1.7 8.100000000000001" stroke-dashoffset="5.30"/><line x1="113.14" y1="116.69" x2="131.49" y2="109.62" stroke="#00ff00" stroke-width="1.5" stroke-dasharray="1.7 8.100000000000001" stroke-dashoffset="5.30"/><line x1="131.49" y1="109.62" x2="149.62" y2="104.38" stroke="#00ff00" stroke-width="1.5" stroke-dasharray="1.7 8.100000000000001" stroke-dashoffset="5.30"/><line x1="149.62" y1="104.38" x2="186.11" y2="96.48" stroke="#00ff00" stroke-width="1.5" stroke-dasharray="1.7 8.100000000000001" stroke-dashoffset="5.30"/><line x1="186.11" y1="96.48" x2="222.39" y2="92.60" stroke="#00ff00" stroke-width="1.5" stroke-dasharray="1.7 8.100000000000001" stroke-dashoffset="5.30"/><line x1="222.39" y1="92.60" x2="297.55" y2="87.66" stroke="#00ff00" stroke-width="1.5" stroke-dasharray="1.7 8.100000000000001" stroke-dashoffset="5.30"/><line x1="297.55" y1="87.66" x2="370.31" y2="81.43" stroke="#00ff00" stroke-width="1.5" stroke-dasharray="1.7 8.100000000000001" stroke-dashoffset="5.30"/><path d="M95.00,145.32L98.10,150.75L91.90,150.75Z" fill="#00ff00"/><path d="M104.18,120.84L107.28,126.28L101.08,126.28Z" fill="#00ff00"/><path d="M113.14,113.78L116.24,119.21L110.04,119.21Z" fill="#00ff00"/><path d="M131.49,106.71L134.59,112.14L128.39,112.14Z" fill="#00ff00"/><path d="M149.62,101.47L152.73,106.90L146.52,106.90Z" fill="#00ff00"/><path d="M186.11,93.56L189.22,98.99L183.01,98.99Z" fill="#00ff00"/><path d="M222.39,89.69L225.49,95.12L219.28,95.12Z" fill="#00ff00"/><path d="M297.55,84.75L300.65,90.18L294.45,90.18Z" fill="#00ff00"/><path d="M370.31,78.51L373.41,83.95L367.21,83.95Z" fill="#00ff00"/><line x1="95.00" y1="156.90" x2="104.18" y2="131.36" stroke="#0000ff" stroke-width="1.5" stroke-dasharray="1.7 8.100000000000001" stroke-dashoffset="0.80"/><line x1="104.18" y1="131.36" x2="113.14" y2="123.61" stroke="#0000ff" stroke-width="1.5" stroke-dasharray="1.7 8.100000000000001" stroke-dashoffset="0.80"/><line x1="113.14" y1="123.61" x2="131.49" y2="114.41" stroke="#0000ff" stroke-width="1.5" stroke-dasharray="1.7 8.100000000000001" stroke-dashoffset="0.80"/><line x1="131.49" y1="114.41" x2="149.62" y2="108.33" stroke="#0000ff" stroke-width="1.5" stroke-dasharray="1.7 8.100000000000001" stroke-dashoffset="0.80"/><line x1="149.62" y1="108.33" x2="186.11" y2="99.14" stroke="#0000ff" stroke-width="1.5" stroke-dasharray="1.7 8.100000000000001" stroke-dashoffset="0.80"/><line x1="186.11" y1="99.14" x2="222.39" y2="93.36" stroke="#0000ff" stroke-width="1.5" stroke-dasharray="1.7 8.100000000000001" stroke-dashoffset="0.80"/><line x1="222.39" y1="93.36" x2="297.55" y2="87.28" stroke="#0000ff" stroke-width="1.5" stroke-dasharray="1.7 8.100000000000001" stroke-dashoffset="0.80"/><line x1="297.55" y1="87.28" x2="370.31" y2="78.92" stroke="#0000ff" stroke-width="1.5" stroke-dasharray="1.7 8.100000000000001" stroke-dashoffset="0.80"/><path d="M95.00,159.81L98.10,154.38L91.90,154.38Z" fill="#0000ff"/><path d="M104.18,134.27L107.28,128.84L101.08,128.84Z" fill="#0000ff"/><path d="M113.14,126.52L116.24,121.09L110.04,121.09Z" fill="#0000ff"/><path d="M131.49,117.33L134.59,111.89L128.39,111.89Z" fill="#0000ff"/><path d="M149.62,111.25L152.73,105.81L146.52,105.81Z" fill="#0000ff"/><path d="M186.11,102.05L189.22,96.62L183.01,96.62Z" fill="#0000ff"/><path d="M222.39,96.27L225.49,90.84L219.28,90.84Z" fill="#0000ff"/><path d="M297.55,90.20L300.65,84.76L294.45,84.76Z" fill="#0000ff"/><path d="M370.31,81.84L373.41,76.40L367.21,76.40Z" fill="#0000ff"/><line x1="95.00" y1="162.22" x2="104.18" y2="137.44" stroke="#00ffff" stroke-width="1.5" stroke-dasharray="1.7 8.100000000000001" stroke-dashoffset="0.80"/><line x1="104.18" y1="137.44" x2="113.14" y2="129.31" stroke="#00ffff" stroke-width="1.5" stroke-dasharray="1.7 8.100000000000001" stroke-dashoffset="0.80"/><line x1="113.14" y1="129.31" x2="131.49" y2="118.82" stroke="#00ffff" stroke-width="1.5" stroke-dasharray="1.7 8.100000000000001" stroke-dashoffset="0.80"/><line x1="131.49" y1="118.82" x2="149.62" y2="112.28" stroke="#00ffff" stroke-width="1.5" stroke-dasharray="1.7 8.100000000000001" stroke-dashoffset="0.80"/><line x1="149.62" y1="112.28" x2="186.11" y2="101.72" stroke="#00ffff" stroke-width="1.5" stroke-dasharray="1.7 8.100000000000001" stroke-dashoffset="0.80"/><line x1="186.11" y1="101.72" x2="222.39" y2="94.12" stroke="#00ffff" stroke-width="1.5" stroke-dasharray="1.7 8.100000000000001" stroke-dashoffset="0.80"/><line x1="222.39" y1="94.12" x2="297.55" y2="86.52" stroke="#00ffff" stroke-width="1.5" stroke-dasharray="1.7 8.100000000000001" stroke-dashoffset="0.80"/><line x1="297.55" y1="86.52" x2="370.31" y2="77.40" stroke="#00ffff" stroke-width="1.5" stroke-dasharray="1.7 8.100000000000001" stroke-dashoffset="0.80"/><path d="M95.00,158.77L98.44,162.22L95.00,165.66L91.56,162.22Z" fill="#00ffff"/><path d="M104.18,134.00L107.62,137.44L104.18,140.88L100.73,137.44Z" fill="#00ffff"/><path d="M113.14,125.86L116.58,129.31L113.14,132.75L109.69,129.31Z" fill="#00ffff"/><path d="M131.49,115.38L134.93,118.82L131.49,122.27L128.04,118.82Z" fill="#00ffff"/><path d="M149.62,108.84L153.07,112.28L149.62,115.73L146.18,112.28Z" fill="#00ffff"/><path d="M186.11,98.28L189.56,101.72L186.11,105.17L182.67,101.72Z" fill="#00ffff"/><path d="M222.39,90.68L225.83,94.12L222.39,97.57L218.94,94.12Z" fill="#00ffff"/><path d="M297.55,83.08L300.99,86.52L297.55,89.97L294.10,86.52Z" fill="#00ffff"/><path d="M370.31,73.96L373.75,77.40L370.31,80.85L366.87,77.40Z" fill="#00ffff"/><line x1="95.00" y1="166.93" x2="104.18" y2="142.76" stroke="#ff00ff" stroke-width="1.5" stroke-dasharray="1.7 8.100000000000001" stroke-dashoffset="0.80"/><line x1="104.18" y1="142.76" x2="113.14" y2="134.63" stroke="#ff00ff" stroke-width="1.5" stroke-dasharray="1.7 8.100000000000001" stroke-dashoffset="0.80"/><line x1="113.14" y1="134.63" x2="131.49" y2="123.61" stroke="#ff00ff" stroke-width="1.5" stroke-dasharray="1.7 8.100000000000001" stroke-dashoffset="0.80"/><line x1="131.49" y1="123.61" x2="149.62" y2="116.16" stroke="#ff00ff" stroke-width="1.5" stroke-dasharray="1.7 8.100000000000001" stroke-dashoffset="0.80"/><line x1="149.62" y1="116.16" x2="186.11" y2="104.38" stroke="#ff00ff" stroke-width="1.5" stroke-dasharray="1.7 8.100000000000001" stroke-dashoffset="0.80"/><line x1="186.11" y1="104.38" x2="222.39" y2="95.64" stroke="#ff00ff" stroke-width="1.5" stroke-dasharray="1.7 8.100000000000001" stroke-dashoffset="0.80"/><line x1="222.39" y1="95.64" x2="297.55" y2="86.52" stroke="#ff00ff" stroke-width="1.5" stroke-dasharray="1.7 8.100000000000001" stroke-dashoffset="0.80"/><line x1="297.55" y1="86.52" x2="370.31" y2="75.88" stroke="#ff00ff" stroke-width="1.5" stroke-dasharray="1.7 8.100000000000001" stroke-dashoffset="0.80"/><path d="M92.03,166.93L97.65,163.70L97.65,170.16Z" fill="#ff00ff"/><path d="M101.21,142.76L106.83,139.53L106.83,145.99Z" fill="#ff00ff"/><path d="M110.17,134.63L115.79,131.39L115.79,137.86Z" fill="#ff00ff"/><path d="M128.52,123.61L134.14,120.38L134.14,126.84Z" fill="#ff00ff"/><path d="M146.66,116.16L152.28,112.93L152.28,119.39Z" fill="#ff00ff"/><path d="M183.15,104.38L188.76,101.15L188.76,107.61Z" fill="#ff00ff"/><path d="M219.42,95.64L225.04,92.41L225.04,98.87Z" fill="#ff00ff"/><path d="M294.58,86.52L300.20,83.29L300.20,89.75Z" fill="#ff00ff"/><path d="M367.34,75.88L372.96,72.65L372.96,79.11Z" fill="#ff00ff"/><line x1="95.00" y1="168.60" x2="104.18" y2="146.56" stroke="#ffff00" stroke-width="1.5" stroke-dasharray="1.7 8.100000000000001" stroke-dashoffset="0.80"/><line x1="104.18" y1="146.56" x2="113.14" y2="138.50" stroke="#ffff00" stroke-width="1.5" stroke-dasharray="1.7 8.100000000000001" stroke-dashoffset="0.80"/><line x1="113.14" y1="138.50" x2="131.49" y2="127.18" stroke="#ffff00" stroke-width="1.5" stroke-dasharray="1.7 8.100000000000001" stroke-dashoffset="0.80"/><line x1="131.49" y1="127.18" x2="149.62" y2="119.28" stroke="#ffff00" stroke-width="1.5" stroke-dasharray="1.7 8.100000000000001" stroke-dashoffset="0.80"/><line x1="149.62" y1="119.28" x2="186.11" y2="107.04" stroke="#ffff00" stroke-width="1.5" stroke-dasharray="1.7 8.100000000000001" stroke-dashoffset="0.80"/><line x1="186.11" y1="107.04" x2="222.39" y2="97.16" stroke="#ffff00" stroke-width="1.5" stroke-dasharray="1.7 8.100000000000001" stroke-dashoffset="0.80"/><line x1="222.39" y1="97.16" x2="297.55" y2="85.76" stroke="#ffff00" stroke-width="1.5" stroke-dasharray="1.7 8.100000000000001" stroke-dashoffset="0.80"/><line x1="297.55" y1="85.76" x2="370.31" y2="74.36" stroke="#ffff00" stroke-width="1.5" stroke-dasharray="1.7 8.100000000000001" stroke-dashoffset="0.80"/><path d="M97.97,168.60L92.35,165.37L92.35,171.83Z" fill="#ffff00"/><path d="M107.15,146.56L101.53,143.33L101.53,149.79Z" fill="#ffff00"/><path d="M116.10,138.50L110.49,135.27L110.49,141.74Z" fill="#ffff00"/><path d="M134.46,127.18L128.84,123.95L128.84,130.41Z" fill="#ffff00"/><path d="M152.59,119.28L146.97,116.04L146.97,122.51Z" fill="#ffff00"/><path d="M189.08,107.04L183.46,103.81L183.46,110.27Z" fill="#ffff00"/><path d="M225.35,97.16L219.74,93.93L219.74,100.39Z" fill="#ffff00"/><path d="M300.52,85.76L294.90,82.53L294.90,88.99Z" fill="#ffff00"/><path d="M373.28,74.36L367.66,71.13L367.66,77.59Z" fill="#ffff00"/><line x1="95.00" y1="171.41" x2="104.18" y2="152.64" stroke="#808000" stroke-width="1.5" stroke-dasharray="1.7 8.100000000000001" stroke-dashoffset="0.80"/><line x1="104.18" y1="152.64" x2="113.14" y2="143.29" stroke="#808000" stroke-width="1.5" stroke-dasharray="1.7 8.100000000000001" stroke-dashoffset="0.80"/><line x1="113.14" y1="143.29" x2="131.49" y2="131.97" stroke="#808000" stroke-width="1.5" stroke-dasharray="1.7 8.100000000000001" stroke-dashoffset="0.80"/><line x1="131.49" y1="131.97" x2="149.62" y2="123.61" stroke="#808000" stroke-width="1.5" stroke-dasharray="1.7 8.100000000000001" stroke-dashoffset="0.80"/><line x1="149.62" y1="123.61" x2="186.11" y2="110.38" stroke="#808000" stroke-width="1.5" stroke-dasharray="1.7 8.100000000000001" stroke-dashoffset="0.80"/><line x1="186.11" y1="110.38" x2="222.39" y2="99.82" stroke="#808000" stroke-width="1.5" stroke-dasharray="1.7 8.100000000000001" stroke-dashoffset="0.80"/><line x1="222.39" y1="99.82" x2="297.55" y2="83.78" stroke="#808000" stroke-width="1.5" stroke-dasharray="1.7 8.100000000000001" stroke-dashoffset="0.80"/><line x1="297.55" y1="83.78" x2="370.31" y2="70.56" stroke="#808000" stroke-width="1.5" stroke-dasharray="1.7 8.100000000000001" stroke-dashoffset="0.80"/><path d="M95.00,168.50L97.52,169.95L97.52,172.87L95.00,174.33L92.48,172.87L92.48,169.95Z" fill="#808000"/><path d="M104.18,149.73L106.70,151.18L106.70,154.10L104.18,155.56L101.65,154.10L101.65,151.18Z" fill="#808000"/><path d="M113.14,140.38L115.66,141.83L115.66,144.75L113.14,146.21L110.61,144.75L110.61,141.83Z" fill="#808000"/><path d="M131.49,129.05L134.01,130.51L134.01,133.43L131.49,134.88L128.97,133.43L128.97,130.51Z" fill="#808000"/><path d="M149.62,120.69L152.15,122.15L152.15,125.07L149.62,126.52L147.10,125.07L147.10,122.15Z" fill="#808000"/><path d="M186.11,107.47L188.64,108.93L188.64,111.84L186.11,113.30L183.59,111.84L183.59,108.93Z" fill="#808000"/><path d="M222.39,96.91L224.91,98.36L224.91,101.28L222.39,102.74L219.86,101.28L219.86,98.36Z" fill="#808000"/><path d="M297.55,80.87L300.07,82.33L300.07,85.24L297.55,86.70L295.03,85.24L295.03,82.33Z" fill="#808000"/><path d="M370.31,67.65L372.83,69.10L372.83,72.02L370.31,73.48L367.79,72.02L367.79,69.10Z" fill="#808000"/><path d="M61.1,246.3L93.3,205.5" stroke="#8c9cff" stroke-width="2.2" fill="none"/><path d="M100.9,196L88.4,203.8L95.9,209.8Z" fill="#8c9cff"/><path d="M60.40,7.60h4.1M85.20,7.60h3.6" stroke="#000000" stroke-width="1.8"/><rect x="73.00" y="4.10" width="7.00" height="7.00" fill="#000000"/><text x="90.90" y="13.10" font-family="Liberation Serif" font-size="16.4"><tspan font-style="italic">r</tspan> =0.075</text><path d="M155.20,7.60h4.1M180.00,7.60h3.6" stroke="#ff0000" stroke-width="1.8"/><circle cx="171.30" cy="7.60" r="3.68" fill="#ff0000"/><text x="185.70" y="13.10" font-family="Liberation Serif" font-size="16.4"><tspan font-style="italic">r</tspan> =0.125</text><path d="M251.70,7.60h4.1M276.50,7.60h3.6" stroke="#00ff00" stroke-width="1.8"/><path d="M267.80,3.75L271.90,10.92L263.70,10.92Z" fill="#00ff00"/><text x="282.20" y="13.10" font-family="Liberation Serif" font-size="16.4"><tspan font-style="italic">r</tspan> =0.175</text><path d="M346.00,7.60h4.1M370.80,7.60h3.6" stroke="#0000ff" stroke-width="1.8"/><path d="M362.10,11.45L366.20,4.28L358.00,4.28Z" fill="#0000ff"/><text x="376.50" y="13.10" font-family="Liberation Serif" font-size="16.4"><tspan font-style="italic">r</tspan> =0.225</text><path d="M60.40,27.80h4.1M85.20,27.80h3.6" stroke="#00ffff" stroke-width="1.8"/><path d="M76.50,23.25L81.05,27.80L76.50,32.35L71.95,27.80Z" fill="#00ffff"/><text x="90.90" y="33.30" font-family="Liberation Serif" font-size="16.4"><tspan font-style="italic">r</tspan> =0.275</text><path d="M155.20,27.80h4.1M180.00,27.80h3.6" stroke="#ff00ff" stroke-width="1.8"/><path d="M167.38,27.80L174.80,23.53L174.80,32.07Z" fill="#ff00ff"/><text x="185.70" y="33.30" font-family="Liberation Serif" font-size="16.4"><tspan font-style="italic">r</tspan> =0.325</text><path d="M251.70,27.80h4.1M276.50,27.80h3.6" stroke="#ffff00" stroke-width="1.8"/><path d="M271.72,27.80L264.30,23.53L264.30,32.07Z" fill="#ffff00"/><text x="282.20" y="33.30" font-family="Liberation Serif" font-size="16.4"><tspan font-style="italic">r</tspan> =0.375</text><path d="M346.00,27.80h4.1M370.80,27.80h3.6" stroke="#808000" stroke-width="1.8"/><path d="M362.10,23.95L365.43,25.88L365.43,29.73L362.10,31.65L358.77,29.73L358.77,25.88Z" fill="#808000"/><text x="376.50" y="33.30" font-family="Liberation Serif" font-size="16.4"><tspan font-style="italic">r</tspan> =0.425</text><path d="M50.7,407.60V700.80H674.4" fill="none" stroke="#000" stroke-width="2"/><path d="M50.7,700.80h6.3M50.7,652.10h6.3M50.7,603.40h6.3M50.7,554.70h6.3M50.7,506.00h6.3M50.7,457.30h6.3M50.7,408.60h6.3M50.70,700.80v-6M128.65,700.80v-6M206.60,700.80v-6M284.55,700.80v-6M362.50,700.80v-6M440.45,700.80v-6M518.40,700.80v-6M596.35,700.80v-6M674.30,700.80v-6" stroke="#000" stroke-width="1.9" fill="none"/><g font-family="Liberation Serif" font-size="18" fill="#000"><text x="42.7" y="706.10" text-anchor="end">1.3</text><text x="42.7" y="657.40" text-anchor="end">1.4</text><text x="42.7" y="608.70" text-anchor="end">1.5</text><text x="42.7" y="560.00" text-anchor="end">1.6</text><text x="42.7" y="511.30" text-anchor="end">1.7</text><text x="42.7" y="462.60" text-anchor="end">1.8</text><text x="42.7" y="413.90" text-anchor="end">1.9</text><text x="50.70" y="722.00" text-anchor="middle">0.0</text><text x="128.65" y="722.00" text-anchor="middle">0.1</text><text x="206.60" y="722.00" text-anchor="middle">0.2</text><text x="284.55" y="722.00" text-anchor="middle">0.3</text><text x="362.50" y="722.00" text-anchor="middle">0.4</text><text x="440.45" y="722.00" text-anchor="middle">0.5</text><text x="518.40" y="722.00" text-anchor="middle">0.6</text><text x="596.35" y="722.00" text-anchor="middle">0.7</text><text x="674.30" y="722.00" text-anchor="middle">0.8</text><text x="351.5" y="739.00" text-anchor="middle" font-size="18.6">Time/<tspan font-style="italic">h</tspan></text><text x="346.1" y="762.00" text-anchor="middle" font-size="18.6">b. parameter <tspan font-style="italic">n</tspan></text><text transform="translate(22,562.7) rotate(-90)" text-anchor="middle" font-style="italic" font-size="20.5">ε</text></g><polyline points="55.40,688.82 60.40,685.85 65.40,683.34 70.40,681.32 79.00,678.88 84.00,677.55 89.00,676.27 94.00,675.09 104.60,672.94 114.60,671.58 124.40,669.45 137.30,667.87 147.80,666.68 157.60,665.22 168.10,663.66 178.10,662.49 191.00,660.94 201.00,659.26 212.30,657.34 223.80,655.93 234.00,654.66 244.50,652.79 257.10,650.44 267.60,649.03 277.80,647.70 288.30,646.02 298.80,644.28 309.30,642.68 320.90,640.90 331.40,639.15 343.70,637.01 354.20,635.14 364.70,633.19 375.20,631.06 387.50,628.62 397.90,626.92 408.40,618.01 418.40,615.09 431.20,611.34 441.70,607.25 451.60,596.24 461.80,588.01 474.40,577.74 484.90,567.95 495.20,559.81 505.50,551.92 518.20,542.72 528.50,534.59 538.50,526.89 548.80,517.98 559.10,509.41 569.60,499.57 581.70,489.10 592.20,479.17 602.50,469.38 615.00,456.86" fill="none" stroke="#000000" stroke-width="1.8" stroke-dasharray="3.6 8.8"/><rect x="51.90" y="685.32" width="7.00" height="7.00" fill="#000000"/><rect x="56.90" y="682.35" width="7.00" height="7.00" fill="#000000"/><rect x="61.90" y="679.84" width="7.00" height="7.00" fill="#000000"/><rect x="66.90" y="677.82" width="7.00" height="7.00" fill="#000000"/><rect x="75.50" y="675.38" width="7.00" height="7.00" fill="#000000"/><rect x="80.50" y="674.05" width="7.00" height="7.00" fill="#000000"/><rect x="85.50" y="672.77" width="7.00" height="7.00" fill="#000000"/><rect x="90.50" y="671.59" width="7.00" height="7.00" fill="#000000"/><rect x="101.10" y="669.44" width="7.00" height="7.00" fill="#000000"/><rect x="111.10" y="668.08" width="7.00" height="7.00" fill="#000000"/><rect x="120.90" y="665.95" width="7.00" height="7.00" fill="#000000"/><rect x="133.80" y="664.37" width="7.00" height="7.00" fill="#000000"/><rect x="144.30" y="663.18" width="7.00" height="7.00" fill="#000000"/><rect x="154.10" y="661.72" width="7.00" height="7.00" fill="#000000"/><rect x="164.60" y="660.16" width="7.00" height="7.00" fill="#000000"/><rect x="174.60" y="658.99" width="7.00" height="7.00" fill="#000000"/><rect x="187.50" y="657.44" width="7.00" height="7.00" fill="#000000"/><rect x="197.50" y="655.76" width="7.00" height="7.00" fill="#000000"/><rect x="208.80" y="653.84" width="7.00" height="7.00" fill="#000000"/><rect x="220.30" y="652.43" width="7.00" height="7.00" fill="#000000"/><rect x="230.50" y="651.16" width="7.00" height="7.00" fill="#000000"/><rect x="241.00" y="649.29" width="7.00" height="7.00" fill="#000000"/><rect x="253.60" y="646.94" width="7.00" height="7.00" fill="#000000"/><rect x="264.10" y="645.53" width="7.00" height="7.00" fill="#000000"/><rect x="274.30" y="644.20" width="7.00" height="7.00" fill="#000000"/><rect x="284.80" y="642.52" width="7.00" height="7.00" fill="#000000"/><rect x="295.30" y="640.78" width="7.00" height="7.00" fill="#000000"/><rect x="305.80" y="639.18" width="7.00" height="7.00" fill="#000000"/><rect x="317.40" y="637.40" width="7.00" height="7.00" fill="#000000"/><rect x="327.90" y="635.65" width="7.00" height="7.00" fill="#000000"/><rect x="340.20" y="633.51" width="7.00" height="7.00" fill="#000000"/><rect x="350.70" y="631.64" width="7.00" height="7.00" fill="#000000"/><rect x="361.20" y="629.69" width="7.00" height="7.00" fill="#000000"/><rect x="371.70" y="627.56" width="7.00" height="7.00" fill="#000000"/><rect x="384.00" y="625.12" width="7.00" height="7.00" fill="#000000"/><rect x="394.40" y="623.42" width="7.00" height="7.00" fill="#000000"/><rect x="404.90" y="614.51" width="7.00" height="7.00" fill="#000000"/><rect x="414.90" y="611.59" width="7.00" height="7.00" fill="#000000"/><rect x="427.70" y="607.84" width="7.00" height="7.00" fill="#000000"/><rect x="438.20" y="603.75" width="7.00" height="7.00" fill="#000000"/><rect x="448.10" y="592.74" width="7.00" height="7.00" fill="#000000"/><rect x="458.30" y="584.51" width="7.00" height="7.00" fill="#000000"/><rect x="470.90" y="574.24" width="7.00" height="7.00" fill="#000000"/><rect x="481.40" y="564.45" width="7.00" height="7.00" fill="#000000"/><rect x="491.70" y="556.31" width="7.00" height="7.00" fill="#000000"/><rect x="502.00" y="548.42" width="7.00" height="7.00" fill="#000000"/><rect x="514.70" y="539.22" width="7.00" height="7.00" fill="#000000"/><rect x="525.00" y="531.09" width="7.00" height="7.00" fill="#000000"/><rect x="535.00" y="523.39" width="7.00" height="7.00" fill="#000000"/><rect x="545.30" y="514.48" width="7.00" height="7.00" fill="#000000"/><rect x="555.60" y="505.91" width="7.00" height="7.00" fill="#000000"/><rect x="566.10" y="496.07" width="7.00" height="7.00" fill="#000000"/><rect x="578.20" y="485.60" width="7.00" height="7.00" fill="#000000"/><rect x="588.70" y="475.67" width="7.00" height="7.00" fill="#000000"/><rect x="599.00" y="465.88" width="7.00" height="7.00" fill="#000000"/><rect x="611.50" y="453.36" width="7.00" height="7.00" fill="#000000"/><polyline points="55.40,688.82 60.40,685.85 65.40,683.34 70.40,681.32 79.00,678.88 84.00,677.55 89.00,676.27 94.00,675.09 104.60,672.94 114.60,671.58 124.40,669.45 137.30,667.87 147.80,666.68 157.60,665.22 168.10,663.66 178.10,662.49 191.00,660.94 201.00,659.26 212.30,657.34 223.80,655.93 234.00,654.66 244.50,652.79 257.10,650.44 267.60,649.03 277.80,647.70 288.30,646.02 298.80,644.28 309.30,642.68 320.90,640.90 331.40,639.15 343.70,637.01 354.20,635.14 364.70,633.19 375.20,631.06 387.50,628.62 397.90,626.92 408.40,616.65 418.40,613.72 431.20,608.85 441.70,604.96 451.60,600.62 461.80,596.24 474.40,590.45 484.90,584.85 495.20,579.54 505.50,573.40 518.20,565.71 528.50,559.13 538.50,552.61 548.80,545.98 559.10,538.29 569.60,529.57 581.70,519.68 592.20,510.97 602.50,502.88 615.00,490.56" fill="none" stroke="#ff0000" stroke-width="1.8" stroke-dasharray="3.6 8.8"/><circle cx="55.40" cy="688.82" r="3.68" fill="#ff0000"/><circle cx="60.40" cy="685.85" r="3.68" fill="#ff0000"/><circle cx="65.40" cy="683.34" r="3.68" fill="#ff0000"/><circle cx="70.40" cy="681.32" r="3.68" fill="#ff0000"/><circle cx="79.00" cy="678.88" r="3.68" fill="#ff0000"/><circle cx="84.00" cy="677.55" r="3.68" fill="#ff0000"/><circle cx="89.00" cy="676.27" r="3.68" fill="#ff0000"/><circle cx="94.00" cy="675.09" r="3.68" fill="#ff0000"/><circle cx="104.60" cy="672.94" r="3.68" fill="#ff0000"/><circle cx="114.60" cy="671.58" r="3.68" fill="#ff0000"/><circle cx="124.40" cy="669.45" r="3.68" fill="#ff0000"/><circle cx="137.30" cy="667.87" r="3.68" fill="#ff0000"/><circle cx="147.80" cy="666.68" r="3.68" fill="#ff0000"/><circle cx="157.60" cy="665.22" r="3.68" fill="#ff0000"/><circle cx="168.10" cy="663.66" r="3.68" fill="#ff0000"/><circle cx="178.10" cy="662.49" r="3.68" fill="#ff0000"/><circle cx="191.00" cy="660.94" r="3.68" fill="#ff0000"/><circle cx="201.00" cy="659.26" r="3.68" fill="#ff0000"/><circle cx="212.30" cy="657.34" r="3.68" fill="#ff0000"/><circle cx="223.80" cy="655.93" r="3.68" fill="#ff0000"/><circle cx="234.00" cy="654.66" r="3.68" fill="#ff0000"/><circle cx="244.50" cy="652.79" r="3.68" fill="#ff0000"/><circle cx="257.10" cy="650.44" r="3.68" fill="#ff0000"/><circle cx="267.60" cy="649.03" r="3.68" fill="#ff0000"/><circle cx="277.80" cy="647.70" r="3.68" fill="#ff0000"/><circle cx="288.30" cy="646.02" r="3.68" fill="#ff0000"/><circle cx="298.80" cy="644.28" r="3.68" fill="#ff0000"/><circle cx="309.30" cy="642.68" r="3.68" fill="#ff0000"/><circle cx="320.90" cy="640.90" r="3.68" fill="#ff0000"/><circle cx="331.40" cy="639.15" r="3.68" fill="#ff0000"/><circle cx="343.70" cy="637.01" r="3.68" fill="#ff0000"/><circle cx="354.20" cy="635.14" r="3.68" fill="#ff0000"/><circle cx="364.70" cy="633.19" r="3.68" fill="#ff0000"/><circle cx="375.20" cy="631.06" r="3.68" fill="#ff0000"/><circle cx="387.50" cy="628.62" r="3.68" fill="#ff0000"/><circle cx="397.90" cy="626.92" r="3.68" fill="#ff0000"/><circle cx="408.40" cy="616.65" r="3.68" fill="#ff0000"/><circle cx="418.40" cy="613.72" r="3.68" fill="#ff0000"/><circle cx="431.20" cy="608.85" r="3.68" fill="#ff0000"/><circle cx="441.70" cy="604.96" r="3.68" fill="#ff0000"/><circle cx="451.60" cy="600.62" r="3.68" fill="#ff0000"/><circle cx="461.80" cy="596.24" r="3.68" fill="#ff0000"/><circle cx="474.40" cy="590.45" r="3.68" fill="#ff0000"/><circle cx="484.90" cy="584.85" r="3.68" fill="#ff0000"/><circle cx="495.20" cy="579.54" r="3.68" fill="#ff0000"/><circle cx="505.50" cy="573.40" r="3.68" fill="#ff0000"/><circle cx="518.20" cy="565.71" r="3.68" fill="#ff0000"/><circle cx="528.50" cy="559.13" r="3.68" fill="#ff0000"/><circle cx="538.50" cy="552.61" r="3.68" fill="#ff0000"/><circle cx="548.80" cy="545.98" r="3.68" fill="#ff0000"/><circle cx="559.10" cy="538.29" r="3.68" fill="#ff0000"/><circle cx="569.60" cy="529.57" r="3.68" fill="#ff0000"/><circle cx="581.70" cy="519.68" r="3.68" fill="#ff0000"/><circle cx="592.20" cy="510.97" r="3.68" fill="#ff0000"/><circle cx="602.50" cy="502.88" r="3.68" fill="#ff0000"/><circle cx="615.00" cy="490.56" r="3.68" fill="#ff0000"/><polyline points="55.40,688.82 60.40,685.85 65.40,683.34 70.40,681.32 79.00,678.88 84.00,677.55 89.00,676.27 94.00,675.09 104.60,672.94 114.60,671.58 124.40,669.45 137.30,667.87 147.80,666.68 157.60,665.22 168.10,663.66 178.10,662.49 191.00,660.94 201.00,659.26 212.30,657.34 223.80,655.93 234.00,654.66 244.50,652.79 257.10,650.44 267.60,649.03 277.80,647.70 288.30,646.02 298.80,644.28 309.30,642.68 320.90,640.90 331.40,639.15 343.70,637.01 354.20,635.14 364.70,633.19 375.20,631.06 387.50,628.62 397.90,626.92 408.40,618.98 418.40,616.06 431.20,612.56 441.70,609.63 451.60,606.76 461.80,603.74 474.40,599.65 484.90,594.83 495.20,590.45 505.50,585.43 518.20,579.54 528.50,573.84 538.50,568.53 548.80,562.93 559.10,556.31 569.60,548.81 581.70,540.48 592.20,532.88 602.50,525.19 615.00,514.18" fill="none" stroke="#00ff00" stroke-width="1.8" stroke-dasharray="3.6 8.8"/><path d="M55.40,684.97L59.49,692.14L51.30,692.14Z" fill="#00ff00"/><path d="M60.40,682.00L64.50,689.17L56.30,689.17Z" fill="#00ff00"/><path d="M65.40,679.49L69.50,686.66L61.31,686.66Z" fill="#00ff00"/><path d="M70.40,677.47L74.50,684.64L66.31,684.64Z" fill="#00ff00"/><path d="M79.00,675.03L83.09,682.21L74.91,682.21Z" fill="#00ff00"/><path d="M84.00,673.70L88.09,680.88L79.91,680.88Z" fill="#00ff00"/><path d="M89.00,672.42L93.09,679.60L84.91,679.60Z" fill="#00ff00"/><path d="M94.00,671.24L98.09,678.41L89.91,678.41Z" fill="#00ff00"/><path d="M104.60,669.09L108.69,676.27L100.50,676.27Z" fill="#00ff00"/><path d="M114.60,667.73L118.69,674.90L110.50,674.90Z" fill="#00ff00"/><path d="M124.40,665.60L128.50,672.78L120.31,672.78Z" fill="#00ff00"/><path d="M137.30,664.02L141.40,671.20L133.21,671.20Z" fill="#00ff00"/><path d="M147.80,662.83L151.90,670.01L143.71,670.01Z" fill="#00ff00"/><path d="M157.60,661.37L161.69,668.55L153.50,668.55Z" fill="#00ff00"/><path d="M168.10,659.81L172.19,666.99L164.00,666.99Z" fill="#00ff00"/><path d="M178.10,658.64L182.19,665.81L174.00,665.81Z" fill="#00ff00"/><path d="M191.00,657.09L195.09,664.27L186.91,664.27Z" fill="#00ff00"/><path d="M201.00,655.41L205.09,662.59L196.91,662.59Z" fill="#00ff00"/><path d="M212.30,653.49L216.40,660.66L208.21,660.66Z" fill="#00ff00"/><path d="M223.80,652.08L227.90,659.26L219.71,659.26Z" fill="#00ff00"/><path d="M234.00,650.81L238.09,657.98L229.91,657.98Z" fill="#00ff00"/><path d="M244.50,648.94L248.59,656.12L240.41,656.12Z" fill="#00ff00"/><path d="M257.10,646.59L261.20,653.77L253.01,653.77Z" fill="#00ff00"/><path d="M267.60,645.18L271.70,652.36L263.50,652.36Z" fill="#00ff00"/><path d="M277.80,643.85L281.90,651.03L273.70,651.03Z" fill="#00ff00"/><path d="M288.30,642.17L292.40,649.34L284.20,649.34Z" fill="#00ff00"/><path d="M298.80,640.43L302.90,647.60L294.70,647.60Z" fill="#00ff00"/><path d="M309.30,638.83L313.40,646.01L305.20,646.01Z" fill="#00ff00"/><path d="M320.90,637.05L325.00,644.22L316.80,644.22Z" fill="#00ff00"/><path d="M331.40,635.30L335.50,642.48L327.30,642.48Z" fill="#00ff00"/><path d="M343.70,633.16L347.80,640.34L339.60,640.34Z" fill="#00ff00"/><path d="M354.20,631.29L358.30,638.46L350.10,638.46Z" fill="#00ff00"/><path d="M364.70,629.34L368.80,636.51L360.60,636.51Z" fill="#00ff00"/><path d="M375.20,627.21L379.30,634.38L371.10,634.38Z" fill="#00ff00"/><path d="M387.50,624.77L391.60,631.94L383.40,631.94Z" fill="#00ff00"/><path d="M397.90,623.07L402.00,630.25L393.80,630.25Z" fill="#00ff00"/><path d="M408.40,615.13L412.50,622.31L404.30,622.31Z" fill="#00ff00"/><path d="M418.40,612.21L422.50,619.39L414.30,619.39Z" fill="#00ff00"/><path d="M431.20,608.71L435.30,615.88L427.10,615.88Z" fill="#00ff00"/><path d="M441.70,605.78L445.80,612.96L437.60,612.96Z" fill="#00ff00"/><path d="M451.60,602.91L455.70,610.09L447.50,610.09Z" fill="#00ff00"/><path d="M461.80,599.89L465.90,607.07L457.70,607.07Z" fill="#00ff00"/><path d="M474.40,595.80L478.50,602.98L470.30,602.98Z" fill="#00ff00"/><path d="M484.90,590.98L489.00,598.15L480.80,598.15Z" fill="#00ff00"/><path d="M495.20,586.60L499.30,593.77L491.10,593.77Z" fill="#00ff00"/><path d="M505.50,581.58L509.60,588.75L501.40,588.75Z" fill="#00ff00"/><path d="M518.20,575.69L522.30,582.86L514.11,582.86Z" fill="#00ff00"/><path d="M528.50,569.99L532.60,577.16L524.40,577.16Z" fill="#00ff00"/><path d="M538.50,564.68L542.60,571.86L534.40,571.86Z" fill="#00ff00"/><path d="M548.80,559.08L552.89,566.26L544.70,566.26Z" fill="#00ff00"/><path d="M559.10,552.46L563.20,559.63L555.00,559.63Z" fill="#00ff00"/><path d="M569.60,544.96L573.70,552.13L565.50,552.13Z" fill="#00ff00"/><path d="M581.70,536.63L585.80,543.80L577.61,543.80Z" fill="#00ff00"/><path d="M592.20,529.03L596.30,536.21L588.11,536.21Z" fill="#00ff00"/><path d="M602.50,521.34L606.60,528.51L598.40,528.51Z" fill="#00ff00"/><path d="M615.00,510.33L619.10,517.51L610.90,517.51Z" fill="#00ff00"/><polyline points="55.40,688.82 60.40,685.85 65.40,683.34 70.40,681.32 79.00,678.88 84.00,677.55 89.00,676.27 94.00,675.09 104.60,672.94 114.60,671.58 124.40,669.45 137.30,667.87 147.80,666.68 157.60,665.22 168.10,663.66 178.10,662.49 191.00,660.94 201.00,659.26 212.30,657.34 223.80,655.93 234.00,654.66 244.50,652.79 257.10,650.44 267.60,649.03 277.80,647.70 288.30,646.02 298.80,644.28 309.30,642.68 320.90,640.90 331.40,639.15 343.70,637.01 354.20,635.14 364.70,633.19 375.20,631.06 387.50,628.62 397.90,626.92 408.40,621.37 418.40,618.98 431.20,615.77 441.70,613.14 451.60,610.22 461.80,607.30 474.40,604.13 484.90,601.21 495.20,598.53 505.50,594.83 518.20,590.45 528.50,584.85 538.50,579.93 548.80,574.52 559.10,569.41 569.60,564.20 581.70,555.82 592.20,549.29 602.50,542.28 615.00,532.88" fill="none" stroke="#0000ff" stroke-width="1.8" stroke-dasharray="3.6 8.8"/><path d="M55.40,692.67L59.49,685.49L51.30,685.49Z" fill="#0000ff"/><path d="M60.40,689.70L64.50,682.52L56.30,682.52Z" fill="#0000ff"/><path d="M65.40,687.19L69.50,680.01L61.31,680.01Z" fill="#0000ff"/><path d="M70.40,685.17L74.50,677.99L66.31,677.99Z" fill="#0000ff"/><path d="M79.00,682.74L83.09,675.56L74.91,675.56Z" fill="#0000ff"/><path d="M84.00,681.40L88.09,674.23L79.91,674.23Z" fill="#0000ff"/><path d="M89.00,680.12L93.09,672.95L84.91,672.95Z" fill="#0000ff"/><path d="M94.00,678.94L98.09,671.76L89.91,671.76Z" fill="#0000ff"/><path d="M104.60,676.79L108.69,669.62L100.50,669.62Z" fill="#0000ff"/><path d="M114.60,675.43L118.69,668.25L110.50,668.25Z" fill="#0000ff"/><path d="M124.40,673.30L128.50,666.13L120.31,666.13Z" fill="#0000ff"/><path d="M137.30,671.72L141.40,664.55L133.21,664.55Z" fill="#0000ff"/><path d="M147.80,670.53L151.90,663.36L143.71,663.36Z" fill="#0000ff"/><path d="M157.60,669.07L161.69,661.90L153.50,661.90Z" fill="#0000ff"/><path d="M168.10,667.51L172.19,660.34L164.00,660.34Z" fill="#0000ff"/><path d="M178.10,666.34L182.19,659.16L174.00,659.16Z" fill="#0000ff"/><path d="M191.00,664.79L195.09,657.62L186.91,657.62Z" fill="#0000ff"/><path d="M201.00,663.11L205.09,655.94L196.91,655.94Z" fill="#0000ff"/><path d="M212.30,661.19L216.40,654.01L208.21,654.01Z" fill="#0000ff"/><path d="M223.80,659.78L227.90,652.61L219.71,652.61Z" fill="#0000ff"/><path d="M234.00,658.51L238.09,651.33L229.91,651.33Z" fill="#0000ff"/><path d="M244.50,656.64L248.59,649.47L240.41,649.47Z" fill="#0000ff"/><path d="M257.10,654.29L261.20,647.12L253.01,647.12Z" fill="#0000ff"/><path d="M267.60,652.88L271.70,645.71L263.50,645.71Z" fill="#0000ff"/><path d="M277.80,651.55L281.90,644.38L273.70,644.38Z" fill="#0000ff"/><path d="M288.30,649.87L292.40,642.69L284.20,642.69Z" fill="#0000ff"/><path d="M298.80,648.13L302.90,640.95L294.70,640.95Z" fill="#0000ff"/><path d="M309.30,646.53L313.40,639.36L305.20,639.36Z" fill="#0000ff"/><path d="M320.90,644.75L325.00,637.57L316.80,637.57Z" fill="#0000ff"/><path d="M331.40,643.00L335.50,635.83L327.30,635.83Z" fill="#0000ff"/><path d="M343.70,640.86L347.80,633.69L339.60,633.69Z" fill="#0000ff"/><path d="M354.20,638.99L358.30,631.81L350.10,631.81Z" fill="#0000ff"/><path d="M364.70,637.04L368.80,629.86L360.60,629.86Z" fill="#0000ff"/><path d="M375.20,634.91L379.30,627.73L371.10,627.73Z" fill="#0000ff"/><path d="M387.50,632.47L391.60,625.29L383.40,625.29Z" fill="#0000ff"/><path d="M397.90,630.77L402.00,623.60L393.80,623.60Z" fill="#0000ff"/><path d="M408.40,625.22L412.50,618.05L404.30,618.05Z" fill="#0000ff"/><path d="M418.40,622.83L422.50,615.66L414.30,615.66Z" fill="#0000ff"/><path d="M431.20,619.62L435.30,612.44L427.10,612.44Z" fill="#0000ff"/><path d="M441.70,616.99L445.80,609.81L437.60,609.81Z" fill="#0000ff"/><path d="M451.60,614.07L455.70,606.89L447.50,606.89Z" fill="#0000ff"/><path d="M461.80,611.15L465.90,603.97L457.70,603.97Z" fill="#0000ff"/><path d="M474.40,607.98L478.50,600.81L470.30,600.81Z" fill="#0000ff"/><path d="M484.90,605.06L489.00,597.88L480.80,597.88Z" fill="#0000ff"/><path d="M495.20,602.38L499.30,595.20L491.10,595.20Z" fill="#0000ff"/><path d="M505.50,598.68L509.60,591.50L501.40,591.50Z" fill="#0000ff"/><path d="M518.20,594.30L522.30,587.12L514.11,587.12Z" fill="#0000ff"/><path d="M528.50,588.70L532.60,581.52L524.40,581.52Z" fill="#0000ff"/><path d="M538.50,583.78L542.60,576.60L534.40,576.60Z" fill="#0000ff"/><path d="M548.80,578.37L552.89,571.20L544.70,571.20Z" fill="#0000ff"/><path d="M559.10,573.26L563.20,566.08L555.00,566.08Z" fill="#0000ff"/><path d="M569.60,568.05L573.70,560.87L565.50,560.87Z" fill="#0000ff"/><path d="M581.70,559.67L585.80,552.50L577.61,552.50Z" fill="#0000ff"/><path d="M592.20,553.14L596.30,545.97L588.11,545.97Z" fill="#0000ff"/><path d="M602.50,546.13L606.60,538.96L598.40,538.96Z" fill="#0000ff"/><path d="M615.00,536.73L619.10,529.56L610.90,529.56Z" fill="#0000ff"/><polyline points="55.40,688.82 60.40,685.85 65.40,683.34 70.40,681.32 79.00,678.88 84.00,677.55 89.00,676.27 94.00,675.09 104.60,672.94 114.60,671.58 124.40,669.45 137.30,667.87 147.80,666.68 157.60,665.22 168.10,663.66 178.10,662.49 191.00,660.94 201.00,659.26 212.30,657.34 223.80,655.93 234.00,654.66 244.50,652.79 257.10,650.44 267.60,649.03 277.80,647.70 288.30,646.02 298.80,644.28 309.30,642.68 320.90,640.90 331.40,639.15 343.70,637.01 354.20,635.14 364.70,633.19 375.20,631.06 387.50,628.62 397.90,626.92 408.40,622.38 418.40,620.19 431.20,617.10 441.70,614.79 451.60,612.04 461.80,609.55 474.40,606.26 484.90,603.59 495.20,601.09 505.50,597.66 518.20,593.67 528.50,589.12 538.50,584.94 548.80,580.40 559.10,576.02 569.60,571.27 581.70,564.12 592.20,558.52 602.50,552.42 615.00,544.37" fill="none" stroke="#00ffff" stroke-width="1.8" stroke-dasharray="3.6 8.8"/><path d="M55.40,684.27L59.95,688.82L55.40,693.37L50.85,688.82Z" fill="#00ffff"/><path d="M60.40,681.30L64.95,685.85L60.40,690.40L55.85,685.85Z" fill="#00ffff"/><path d="M65.40,678.79L69.95,683.34L65.40,687.89L60.85,683.34Z" fill="#00ffff"/><path d="M70.40,676.77L74.95,681.32L70.40,685.87L65.85,681.32Z" fill="#00ffff"/><path d="M79.00,674.34L83.55,678.88L79.00,683.43L74.45,678.88Z" fill="#00ffff"/><path d="M84.00,673.00L88.55,677.55L84.00,682.10L79.45,677.55Z" fill="#00ffff"/><path d="M89.00,671.72L93.55,676.27L89.00,680.82L84.45,676.27Z" fill="#00ffff"/><path d="M94.00,670.54L98.55,675.09L94.00,679.64L89.45,675.09Z" fill="#00ffff"/><path d="M104.60,668.39L109.15,672.94L104.60,677.49L100.05,672.94Z" fill="#00ffff"/><path d="M114.60,667.03L119.15,671.58L114.60,676.13L110.05,671.58Z" fill="#00ffff"/><path d="M124.40,664.90L128.95,669.45L124.40,674.00L119.85,669.45Z" fill="#00ffff"/><path d="M137.30,663.32L141.85,667.87L137.30,672.42L132.75,667.87Z" fill="#00ffff"/><path d="M147.80,662.13L152.35,666.68L147.80,671.23L143.25,666.68Z" fill="#00ffff"/><path d="M157.60,660.67L162.15,665.22L157.60,669.77L153.05,665.22Z" fill="#00ffff"/><path d="M168.10,659.11L172.65,663.66L168.10,668.21L163.55,663.66Z" fill="#00ffff"/><path d="M178.10,657.94L182.65,662.49L178.10,667.04L173.55,662.49Z" fill="#00ffff"/><path d="M191.00,656.39L195.55,660.94L191.00,665.49L186.45,660.94Z" fill="#00ffff"/><path d="M201.00,654.71L205.55,659.26L201.00,663.81L196.45,659.26Z" fill="#00ffff"/><path d="M212.30,652.79L216.85,657.34L212.30,661.89L207.75,657.34Z" fill="#00ffff"/><path d="M223.80,651.38L228.35,655.93L223.80,660.48L219.25,655.93Z" fill="#00ffff"/><path d="M234.00,650.11L238.55,654.66L234.00,659.21L229.45,654.66Z" fill="#00ffff"/><path d="M244.50,648.24L249.05,652.79L244.50,657.34L239.95,652.79Z" fill="#00ffff"/><path d="M257.10,645.89L261.65,650.44L257.10,654.99L252.55,650.44Z" fill="#00ffff"/><path d="M267.60,644.48L272.15,649.03L267.60,653.58L263.05,649.03Z" fill="#00ffff"/><path d="M277.80,643.15L282.35,647.70L277.80,652.25L273.25,647.70Z" fill="#00ffff"/><path d="M288.30,641.47L292.85,646.02L288.30,650.57L283.75,646.02Z" fill="#00ffff"/><path d="M298.80,639.73L303.35,644.28L298.80,648.83L294.25,644.28Z" fill="#00ffff"/><path d="M309.30,638.13L313.85,642.68L309.30,647.23L304.75,642.68Z" fill="#00ffff"/><path d="M320.90,636.35L325.45,640.90L320.90,645.45L316.35,640.90Z" fill="#00ffff"/><path d="M331.40,634.60L335.95,639.15L331.40,643.70L326.85,639.15Z" fill="#00ffff"/><path d="M343.70,632.46L348.25,637.01L343.70,641.56L339.15,637.01Z" fill="#00ffff"/><path d="M354.20,630.59L358.75,635.14L354.20,639.69L349.65,635.14Z" fill="#00ffff"/><path d="M364.70,628.64L369.25,633.19L364.70,637.74L360.15,633.19Z" fill="#00ffff"/><path d="M375.20,626.51L379.75,631.06L375.20,635.61L370.65,631.06Z" fill="#00ffff"/><path d="M387.50,624.07L392.05,628.62L387.50,633.17L382.95,628.62Z" fill="#00ffff"/><path d="M397.90,622.37L402.45,626.92L397.90,631.47L393.35,626.92Z" fill="#00ffff"/><path d="M408.40,617.83L412.95,622.38L408.40,626.93L403.85,622.38Z" fill="#00ffff"/><path d="M418.40,615.64L422.95,620.19L418.40,624.74L413.85,620.19Z" fill="#00ffff"/><path d="M431.20,612.55L435.75,617.10L431.20,621.65L426.65,617.10Z" fill="#00ffff"/><path d="M441.70,610.24L446.25,614.79L441.70,619.34L437.15,614.79Z" fill="#00ffff"/><path d="M451.60,607.49L456.15,612.04L451.60,616.59L447.05,612.04Z" fill="#00ffff"/><path d="M461.80,605.00L466.35,609.55L461.80,614.10L457.25,609.55Z" fill="#00ffff"/><path d="M474.40,601.71L478.95,606.26L474.40,610.81L469.85,606.26Z" fill="#00ffff"/><path d="M484.90,599.04L489.45,603.59L484.90,608.14L480.35,603.59Z" fill="#00ffff"/><path d="M495.20,596.54L499.75,601.09L495.20,605.64L490.65,601.09Z" fill="#00ffff"/><path d="M505.50,593.11L510.05,597.66L505.50,602.21L500.95,597.66Z" fill="#00ffff"/><path d="M518.20,589.12L522.75,593.67L518.20,598.22L513.65,593.67Z" fill="#00ffff"/><path d="M528.50,584.57L533.05,589.12L528.50,593.67L523.95,589.12Z" fill="#00ffff"/><path d="M538.50,580.39L543.05,584.94L538.50,589.49L533.95,584.94Z" fill="#00ffff"/><path d="M548.80,575.85L553.35,580.40L548.80,584.95L544.25,580.40Z" fill="#00ffff"/><path d="M559.10,571.47L563.65,576.02L559.10,580.57L554.55,576.02Z" fill="#00ffff"/><path d="M569.60,566.72L574.15,571.27L569.60,575.82L565.05,571.27Z" fill="#00ffff"/><path d="M581.70,559.57L586.25,564.12L581.70,568.67L577.15,564.12Z" fill="#00ffff"/><path d="M592.20,553.97L596.75,558.52L592.20,563.07L587.65,558.52Z" fill="#00ffff"/><path d="M602.50,547.87L607.05,552.42L602.50,556.97L597.95,552.42Z" fill="#00ffff"/><path d="M615.00,539.82L619.55,544.37L615.00,548.92L610.45,544.37Z" fill="#00ffff"/><polyline points="55.40,688.82 60.40,685.85 65.40,683.34 70.40,681.32 79.00,678.88 84.00,677.55 89.00,676.27 94.00,675.09 104.60,672.94 114.60,671.58 124.40,669.45 137.30,667.87 147.80,666.68 157.60,665.22 168.10,663.66 178.10,662.49 191.00,660.94 201.00,659.26 212.30,657.34 223.80,655.93 234.00,654.66 244.50,652.79 257.10,650.44 267.60,649.03 277.80,647.70 288.30,646.02 298.80,644.28 309.30,642.68 320.90,640.90 331.40,639.15 343.70,637.01 354.20,635.14 364.70,633.19 375.20,631.06 387.50,628.62 397.90,626.92 408.40,623.21 418.40,621.20 431.20,618.20 441.70,616.16 451.60,613.55 461.80,611.41 474.40,608.03 484.90,605.57 495.20,603.21 505.50,600.00 518.20,596.34 528.50,592.67 538.50,589.09 548.80,585.27 559.10,581.50 569.60,577.13 581.70,571.00 592.20,566.16 602.50,560.83 615.00,553.89" fill="none" stroke="#ff00ff" stroke-width="1.8" stroke-dasharray="3.6 8.8"/><path d="M51.48,688.82L58.90,684.55L58.90,693.09Z" fill="#ff00ff"/><path d="M56.48,685.85L63.90,681.58L63.90,690.12Z" fill="#ff00ff"/><path d="M61.48,683.34L68.90,679.07L68.90,687.61Z" fill="#ff00ff"/><path d="M66.48,681.32L73.90,677.05L73.90,685.59Z" fill="#ff00ff"/><path d="M75.08,678.88L82.50,674.62L82.50,683.15Z" fill="#ff00ff"/><path d="M80.08,677.55L87.50,673.28L87.50,681.82Z" fill="#ff00ff"/><path d="M85.08,676.27L92.50,672.00L92.50,680.54Z" fill="#ff00ff"/><path d="M90.08,675.09L97.50,670.82L97.50,679.36Z" fill="#ff00ff"/><path d="M100.68,672.94L108.10,668.67L108.10,677.21Z" fill="#ff00ff"/><path d="M110.68,671.58L118.10,667.31L118.10,675.85Z" fill="#ff00ff"/><path d="M120.48,669.45L127.90,665.18L127.90,673.72Z" fill="#ff00ff"/><path d="M133.38,667.87L140.80,663.60L140.80,672.14Z" fill="#ff00ff"/><path d="M143.88,666.68L151.30,662.41L151.30,670.95Z" fill="#ff00ff"/><path d="M153.68,665.22L161.10,660.95L161.10,669.49Z" fill="#ff00ff"/><path d="M164.18,663.66L171.60,659.39L171.60,667.93Z" fill="#ff00ff"/><path d="M174.18,662.49L181.60,658.22L181.60,666.76Z" fill="#ff00ff"/><path d="M187.08,660.94L194.50,656.67L194.50,665.21Z" fill="#ff00ff"/><path d="M197.08,659.26L204.50,654.99L204.50,663.53Z" fill="#ff00ff"/><path d="M208.38,657.34L215.80,653.07L215.80,661.61Z" fill="#ff00ff"/><path d="M219.88,655.93L227.30,651.66L227.30,660.20Z" fill="#ff00ff"/><path d="M230.08,654.66L237.50,650.39L237.50,658.93Z" fill="#ff00ff"/><path d="M240.58,652.79L248.00,648.52L248.00,657.06Z" fill="#ff00ff"/><path d="M253.18,650.44L260.60,646.17L260.60,654.71Z" fill="#ff00ff"/><path d="M263.68,649.03L271.10,644.76L271.10,653.30Z" fill="#ff00ff"/><path d="M273.88,647.70L281.30,643.43L281.30,651.97Z" fill="#ff00ff"/><path d="M284.38,646.02L291.80,641.75L291.80,650.29Z" fill="#ff00ff"/><path d="M294.88,644.28L302.30,640.01L302.30,648.55Z" fill="#ff00ff"/><path d="M305.38,642.68L312.80,638.41L312.80,646.95Z" fill="#ff00ff"/><path d="M316.98,640.90L324.40,636.63L324.40,645.17Z" fill="#ff00ff"/><path d="M327.48,639.15L334.90,634.88L334.90,643.42Z" fill="#ff00ff"/><path d="M339.78,637.01L347.20,632.74L347.20,641.28Z" fill="#ff00ff"/><path d="M350.28,635.14L357.70,630.87L357.70,639.41Z" fill="#ff00ff"/><path d="M360.78,633.19L368.20,628.92L368.20,637.46Z" fill="#ff00ff"/><path d="M371.28,631.06L378.70,626.79L378.70,635.33Z" fill="#ff00ff"/><path d="M383.58,628.62L391.00,624.35L391.00,632.89Z" fill="#ff00ff"/><path d="M393.98,626.92L401.40,622.65L401.40,631.19Z" fill="#ff00ff"/><path d="M404.48,623.21L411.90,618.94L411.90,627.48Z" fill="#ff00ff"/><path d="M414.48,621.20L421.90,616.93L421.90,625.47Z" fill="#ff00ff"/><path d="M427.28,618.20L434.70,613.93L434.70,622.47Z" fill="#ff00ff"/><path d="M437.78,616.16L445.20,611.89L445.20,620.43Z" fill="#ff00ff"/><path d="M447.68,613.55L455.10,609.28L455.10,617.82Z" fill="#ff00ff"/><path d="M457.88,611.41L465.30,607.14L465.30,615.68Z" fill="#ff00ff"/><path d="M470.48,608.03L477.90,603.76L477.90,612.30Z" fill="#ff00ff"/><path d="M480.98,605.57L488.40,601.30L488.40,609.84Z" fill="#ff00ff"/><path d="M491.28,603.21L498.70,598.94L498.70,607.48Z" fill="#ff00ff"/><path d="M501.58,600.00L509.00,595.73L509.00,604.27Z" fill="#ff00ff"/><path d="M514.28,596.34L521.70,592.07L521.70,600.61Z" fill="#ff00ff"/><path d="M524.58,592.67L532.00,588.40L532.00,596.94Z" fill="#ff00ff"/><path d="M534.58,589.09L542.00,584.82L542.00,593.36Z" fill="#ff00ff"/><path d="M544.88,585.27L552.30,581.00L552.30,589.54Z" fill="#ff00ff"/><path d="M555.18,581.50L562.60,577.23L562.60,585.77Z" fill="#ff00ff"/><path d="M565.68,577.13L573.10,572.86L573.10,581.40Z" fill="#ff00ff"/><path d="M577.78,571.00L585.20,566.73L585.20,575.27Z" fill="#ff00ff"/><path d="M588.28,566.16L595.70,561.89L595.70,570.43Z" fill="#ff00ff"/><path d="M598.58,560.83L606.00,556.56L606.00,565.10Z" fill="#ff00ff"/><path d="M611.08,553.89L618.50,549.62L618.50,558.16Z" fill="#ff00ff"/><polyline points="55.40,688.82 60.40,685.85 65.40,683.34 70.40,681.32 79.00,678.88 84.00,677.55 89.00,676.27 94.00,675.09 104.60,672.94 114.60,671.58 124.40,669.45 137.30,667.87 147.80,666.68 157.60,665.22 168.10,663.66 178.10,662.49 191.00,660.94 201.00,659.26 212.30,657.34 223.80,655.93 234.00,654.66 244.50,652.79 257.10,650.44 267.60,649.03 277.80,647.70 288.30,646.02 298.80,644.28 309.30,642.68 320.90,640.90 331.40,639.15 343.70,637.01 354.20,635.14 364.70,633.19 375.20,631.06 387.50,628.62 397.90,626.92 408.40,623.73 418.40,621.82 431.20,618.88 441.70,617.01 451.60,614.49 461.80,612.57 474.40,609.12 484.90,606.80 495.20,604.52 505.50,601.46 518.20,597.99 528.50,594.87 538.50,591.67 548.80,588.30 559.10,584.90 569.60,580.77 581.70,575.27 592.20,570.90 602.50,566.04 615.00,559.80" fill="none" stroke="#ffff00" stroke-width="1.8" stroke-dasharray="3.6 8.8"/><path d="M59.32,688.82L51.90,684.55L51.90,693.09Z" fill="#ffff00"/><path d="M64.32,685.85L56.90,681.58L56.90,690.12Z" fill="#ffff00"/><path d="M69.32,683.34L61.90,679.07L61.90,687.61Z" fill="#ffff00"/><path d="M74.32,681.32L66.90,677.05L66.90,685.59Z" fill="#ffff00"/><path d="M82.92,678.88L75.50,674.62L75.50,683.15Z" fill="#ffff00"/><path d="M87.92,677.55L80.50,673.28L80.50,681.82Z" fill="#ffff00"/><path d="M92.92,676.27L85.50,672.00L85.50,680.54Z" fill="#ffff00"/><path d="M97.92,675.09L90.50,670.82L90.50,679.36Z" fill="#ffff00"/><path d="M108.52,672.94L101.10,668.67L101.10,677.21Z" fill="#ffff00"/><path d="M118.52,671.58L111.10,667.31L111.10,675.85Z" fill="#ffff00"/><path d="M128.32,669.45L120.90,665.18L120.90,673.72Z" fill="#ffff00"/><path d="M141.22,667.87L133.80,663.60L133.80,672.14Z" fill="#ffff00"/><path d="M151.72,666.68L144.30,662.41L144.30,670.95Z" fill="#ffff00"/><path d="M161.52,665.22L154.10,660.95L154.10,669.49Z" fill="#ffff00"/><path d="M172.02,663.66L164.60,659.39L164.60,667.93Z" fill="#ffff00"/><path d="M182.02,662.49L174.60,658.22L174.60,666.76Z" fill="#ffff00"/><path d="M194.92,660.94L187.50,656.67L187.50,665.21Z" fill="#ffff00"/><path d="M204.92,659.26L197.50,654.99L197.50,663.53Z" fill="#ffff00"/><path d="M216.22,657.34L208.80,653.07L208.80,661.61Z" fill="#ffff00"/><path d="M227.72,655.93L220.30,651.66L220.30,660.20Z" fill="#ffff00"/><path d="M237.92,654.66L230.50,650.39L230.50,658.93Z" fill="#ffff00"/><path d="M248.42,652.79L241.00,648.52L241.00,657.06Z" fill="#ffff00"/><path d="M261.02,650.44L253.60,646.17L253.60,654.71Z" fill="#ffff00"/><path d="M271.52,649.03L264.10,644.76L264.10,653.30Z" fill="#ffff00"/><path d="M281.72,647.70L274.30,643.43L274.30,651.97Z" fill="#ffff00"/><path d="M292.22,646.02L284.80,641.75L284.80,650.29Z" fill="#ffff00"/><path d="M302.72,644.28L295.30,640.01L295.30,648.55Z" fill="#ffff00"/><path d="M313.22,642.68L305.80,638.41L305.80,646.95Z" fill="#ffff00"/><path d="M324.82,640.90L317.40,636.63L317.40,645.17Z" fill="#ffff00"/><path d="M335.32,639.15L327.90,634.88L327.90,643.42Z" fill="#ffff00"/><path d="M347.62,637.01L340.20,632.74L340.20,641.28Z" fill="#ffff00"/><path d="M358.12,635.14L350.70,630.87L350.70,639.41Z" fill="#ffff00"/><path d="M368.62,633.19L361.20,628.92L361.20,637.46Z" fill="#ffff00"/><path d="M379.12,631.06L371.70,626.79L371.70,635.33Z" fill="#ffff00"/><path d="M391.42,628.62L384.00,624.35L384.00,632.89Z" fill="#ffff00"/><path d="M401.82,626.92L394.40,622.65L394.40,631.19Z" fill="#ffff00"/><path d="M412.32,623.73L404.90,619.46L404.90,628.00Z" fill="#ffff00"/><path d="M422.32,621.82L414.90,617.55L414.90,626.09Z" fill="#ffff00"/><path d="M435.12,618.88L427.70,614.61L427.70,623.15Z" fill="#ffff00"/><path d="M445.62,617.01L438.20,612.74L438.20,621.28Z" fill="#ffff00"/><path d="M455.52,614.49L448.10,610.22L448.10,618.76Z" fill="#ffff00"/><path d="M465.72,612.57L458.30,608.30L458.30,616.84Z" fill="#ffff00"/><path d="M478.32,609.12L470.90,604.85L470.90,613.39Z" fill="#ffff00"/><path d="M488.82,606.80L481.40,602.53L481.40,611.07Z" fill="#ffff00"/><path d="M499.12,604.52L491.70,600.25L491.70,608.79Z" fill="#ffff00"/><path d="M509.42,601.46L502.00,597.19L502.00,605.73Z" fill="#ffff00"/><path d="M522.12,597.99L514.70,593.72L514.70,602.26Z" fill="#ffff00"/><path d="M532.42,594.87L525.00,590.60L525.00,599.14Z" fill="#ffff00"/><path d="M542.42,591.67L535.00,587.40L535.00,595.94Z" fill="#ffff00"/><path d="M552.72,588.30L545.30,584.03L545.30,592.57Z" fill="#ffff00"/><path d="M563.02,584.90L555.60,580.63L555.60,589.17Z" fill="#ffff00"/><path d="M573.52,580.77L566.10,576.50L566.10,585.04Z" fill="#ffff00"/><path d="M585.62,575.27L578.20,571.00L578.20,579.54Z" fill="#ffff00"/><path d="M596.12,570.90L588.70,566.63L588.70,575.17Z" fill="#ffff00"/><path d="M606.42,566.04L599.00,561.77L599.00,570.31Z" fill="#ffff00"/><path d="M618.92,559.80L611.50,555.53L611.50,564.07Z" fill="#ffff00"/><polyline points="55.40,688.82 60.40,685.85 65.40,683.34 70.40,681.32 79.00,678.88 84.00,677.55 89.00,676.27 94.00,675.09 104.60,672.94 114.60,671.58 124.40,669.45 137.30,667.87 147.80,666.68 157.60,665.22 168.10,663.66 178.10,662.49 191.00,660.94 201.00,659.26 212.30,657.34 223.80,655.93 234.00,654.66 244.50,652.79 257.10,650.44 267.60,649.03 277.80,647.70 288.30,646.02 298.80,644.28 309.30,642.68 320.90,640.90 331.40,639.15 343.70,637.01 354.20,635.14 364.70,633.19 375.20,631.06 387.50,628.62 397.90,626.92 408.40,624.24 418.40,622.44 431.20,619.57 441.70,617.86 451.60,615.43 461.80,613.72 474.40,610.22 484.90,608.03 495.20,605.83 505.50,602.91 518.20,599.65 528.50,597.07 538.50,594.24 548.80,591.32 559.10,588.30 569.60,584.41 581.70,579.54 592.20,575.64 602.50,571.26 615.00,565.71" fill="none" stroke="#808000" stroke-width="1.8" stroke-dasharray="3.6 8.8"/><path d="M55.40,684.97L58.73,686.89L58.73,690.74L55.40,692.67L52.07,690.74L52.07,686.89Z" fill="#808000"/><path d="M60.40,682.00L63.73,683.92L63.73,687.77L60.40,689.70L57.07,687.77L57.07,683.92Z" fill="#808000"/><path d="M65.40,679.49L68.73,681.41L68.73,685.26L65.40,687.19L62.07,685.26L62.07,681.41Z" fill="#808000"/><path d="M70.40,677.47L73.73,679.39L73.73,683.24L70.40,685.17L67.07,683.24L67.07,679.39Z" fill="#808000"/><path d="M79.00,675.03L82.33,676.96L82.33,680.81L79.00,682.74L75.67,680.81L75.67,676.96Z" fill="#808000"/><path d="M84.00,673.70L87.33,675.63L87.33,679.48L84.00,681.40L80.67,679.48L80.67,675.63Z" fill="#808000"/><path d="M89.00,672.42L92.33,674.35L92.33,678.20L89.00,680.12L85.67,678.20L85.67,674.35Z" fill="#808000"/><path d="M94.00,671.24L97.33,673.16L97.33,677.01L94.00,678.94L90.67,677.01L90.67,673.16Z" fill="#808000"/><path d="M104.60,669.09L107.93,671.02L107.93,674.87L104.60,676.79L101.27,674.87L101.27,671.02Z" fill="#808000"/><path d="M114.60,667.73L117.93,669.65L117.93,673.50L114.60,675.43L111.27,673.50L111.27,669.65Z" fill="#808000"/><path d="M124.40,665.60L127.73,667.53L127.73,671.38L124.40,673.30L121.07,671.38L121.07,667.53Z" fill="#808000"/><path d="M137.30,664.02L140.63,665.95L140.63,669.80L137.30,671.72L133.97,669.80L133.97,665.95Z" fill="#808000"/><path d="M147.80,662.83L151.13,664.76L151.13,668.61L147.80,670.53L144.47,668.61L144.47,664.76Z" fill="#808000"/><path d="M157.60,661.37L160.93,663.30L160.93,667.15L157.60,669.07L154.27,667.15L154.27,663.30Z" fill="#808000"/><path d="M168.10,659.81L171.43,661.74L171.43,665.59L168.10,667.51L164.77,665.59L164.77,661.74Z" fill="#808000"/><path d="M178.10,658.64L181.43,660.56L181.43,664.41L178.10,666.34L174.77,664.41L174.77,660.56Z" fill="#808000"/><path d="M191.00,657.09L194.33,659.02L194.33,662.87L191.00,664.79L187.67,662.87L187.67,659.02Z" fill="#808000"/><path d="M201.00,655.41L204.33,657.34L204.33,661.19L201.00,663.11L197.67,661.19L197.67,657.34Z" fill="#808000"/><path d="M212.30,653.49L215.63,655.41L215.63,659.26L212.30,661.19L208.97,659.26L208.97,655.41Z" fill="#808000"/><path d="M223.80,652.08L227.13,654.01L227.13,657.86L223.80,659.78L220.47,657.86L220.47,654.01Z" fill="#808000"/><path d="M234.00,650.81L237.33,652.73L237.33,656.58L234.00,658.51L230.67,656.58L230.67,652.73Z" fill="#808000"/><path d="M244.50,648.94L247.83,650.87L247.83,654.72L244.50,656.64L241.17,654.72L241.17,650.87Z" fill="#808000"/><path d="M257.10,646.59L260.43,648.52L260.43,652.37L257.10,654.29L253.77,652.37L253.77,648.52Z" fill="#808000"/><path d="M267.60,645.18L270.93,647.11L270.93,650.96L267.60,652.88L264.27,650.96L264.27,647.11Z" fill="#808000"/><path d="M277.80,643.85L281.13,645.78L281.13,649.63L277.80,651.55L274.47,649.63L274.47,645.78Z" fill="#808000"/><path d="M288.30,642.17L291.63,644.09L291.63,647.94L288.30,649.87L284.97,647.94L284.97,644.09Z" fill="#808000"/><path d="M298.80,640.43L302.13,642.35L302.13,646.20L298.80,648.13L295.47,646.20L295.47,642.35Z" fill="#808000"/><path d="M309.30,638.83L312.63,640.76L312.63,644.61L309.30,646.53L305.97,644.61L305.97,640.76Z" fill="#808000"/><path d="M320.90,637.05L324.23,638.97L324.23,642.82L320.90,644.75L317.57,642.82L317.57,638.97Z" fill="#808000"/><path d="M331.40,635.30L334.73,637.23L334.73,641.08L331.40,643.00L328.07,641.08L328.07,637.23Z" fill="#808000"/><path d="M343.70,633.16L347.03,635.09L347.03,638.94L343.70,640.86L340.37,638.94L340.37,635.09Z" fill="#808000"/><path d="M354.20,631.29L357.53,633.21L357.53,637.06L354.20,638.99L350.87,637.06L350.87,633.21Z" fill="#808000"/><path d="M364.70,629.34L368.03,631.26L368.03,635.11L364.70,637.04L361.37,635.11L361.37,631.26Z" fill="#808000"/><path d="M375.20,627.21L378.53,629.13L378.53,632.98L375.20,634.91L371.87,632.98L371.87,629.13Z" fill="#808000"/><path d="M387.50,624.77L390.83,626.69L390.83,630.54L387.50,632.47L384.17,630.54L384.17,626.69Z" fill="#808000"/><path d="M397.90,623.07L401.23,625.00L401.23,628.85L397.90,630.77L394.57,628.85L394.57,625.00Z" fill="#808000"/><path d="M408.40,620.39L411.73,622.32L411.73,626.17L408.40,628.09L405.07,626.17L405.07,622.32Z" fill="#808000"/><path d="M418.40,618.59L421.73,620.52L421.73,624.37L418.40,626.29L415.07,624.37L415.07,620.52Z" fill="#808000"/><path d="M431.20,615.72L434.53,617.64L434.53,621.49L431.20,623.42L427.87,621.49L427.87,617.64Z" fill="#808000"/><path d="M441.70,614.01L445.03,615.94L445.03,619.79L441.70,621.71L438.37,619.79L438.37,615.94Z" fill="#808000"/><path d="M451.60,611.58L454.93,613.50L454.93,617.35L451.60,619.28L448.27,617.35L448.27,613.50Z" fill="#808000"/><path d="M461.80,609.87L465.13,611.80L465.13,615.65L461.80,617.57L458.47,615.65L458.47,611.80Z" fill="#808000"/><path d="M474.40,606.37L477.73,608.29L477.73,612.14L474.40,614.07L471.07,612.14L471.07,608.29Z" fill="#808000"/><path d="M484.90,604.18L488.23,606.10L488.23,609.95L484.90,611.88L481.57,609.95L481.57,606.10Z" fill="#808000"/><path d="M495.20,601.98L498.53,603.91L498.53,607.76L495.20,609.68L491.87,607.76L491.87,603.91Z" fill="#808000"/><path d="M505.50,599.06L508.83,600.99L508.83,604.84L505.50,606.76L502.17,604.84L502.17,600.99Z" fill="#808000"/><path d="M518.20,595.80L521.53,597.73L521.53,601.58L518.20,603.50L514.87,601.58L514.87,597.73Z" fill="#808000"/><path d="M528.50,593.22L531.83,595.14L531.83,598.99L528.50,600.92L525.17,598.99L525.17,595.14Z" fill="#808000"/><path d="M538.50,590.39L541.83,592.32L541.83,596.17L538.50,598.09L535.17,596.17L535.17,592.32Z" fill="#808000"/><path d="M548.80,587.47L552.13,589.40L552.13,593.25L548.80,595.17L545.47,593.25L545.47,589.40Z" fill="#808000"/><path d="M559.10,584.45L562.43,586.38L562.43,590.23L559.10,592.15L555.77,590.23L555.77,586.38Z" fill="#808000"/><path d="M569.60,580.56L572.93,582.48L572.93,586.33L569.60,588.26L566.27,586.33L566.27,582.48Z" fill="#808000"/><path d="M581.70,575.69L585.03,577.61L585.03,581.46L581.70,583.39L578.37,581.46L578.37,577.61Z" fill="#808000"/><path d="M592.20,571.79L595.53,573.72L595.53,577.57L592.20,579.49L588.87,577.57L588.87,573.72Z" fill="#808000"/><path d="M602.50,567.41L605.83,569.33L605.83,573.18L602.50,575.11L599.17,573.18L599.17,569.33Z" fill="#808000"/><path d="M615.00,561.86L618.33,563.78L618.33,567.63L615.00,569.56L611.67,567.63L611.67,563.78Z" fill="#808000"/><path d="M59.60,416.90h4.1M84.40,416.90h3.6" stroke="#000000" stroke-width="1.8"/><rect x="72.20" y="413.40" width="7.00" height="7.00" fill="#000000"/><text x="90.10" y="422.10" font-family="Liberation Serif" font-size="16"><tspan font-style="italic">n</tspan> =8.815</text><path d="M165.00,416.90h4.1M189.80,416.90h3.6" stroke="#ff0000" stroke-width="1.8"/><circle cx="181.10" cy="416.90" r="3.68" fill="#ff0000"/><text x="195.50" y="422.10" font-family="Liberation Serif" font-size="16"><tspan font-style="italic">n</tspan> =9.815</text><path d="M270.40,416.90h4.1M295.20,416.90h3.6" stroke="#00ff00" stroke-width="1.8"/><path d="M286.50,413.05L290.60,420.22L282.40,420.22Z" fill="#00ff00"/><text x="300.90" y="422.10" font-family="Liberation Serif" font-size="16"><tspan font-style="italic">n</tspan> =10.815</text><path d="M375.60,416.90h4.1M400.40,416.90h3.6" stroke="#0000ff" stroke-width="1.8"/><path d="M391.70,420.75L395.80,413.57L387.61,413.57Z" fill="#0000ff"/><text x="406.10" y="422.10" font-family="Liberation Serif" font-size="16"><tspan font-style="italic">n</tspan> =11.815</text><path d="M59.60,437.60h4.1M84.40,437.60h3.6" stroke="#00ffff" stroke-width="1.8"/><path d="M75.70,433.05L80.25,437.60L75.70,442.15L71.15,437.60Z" fill="#00ffff"/><text x="90.10" y="442.80" font-family="Liberation Serif" font-size="16"><tspan font-style="italic">n</tspan> =12.815</text><path d="M165.00,437.60h4.1M189.80,437.60h3.6" stroke="#ff00ff" stroke-width="1.8"/><path d="M177.18,437.60L184.60,433.33L184.60,441.87Z" fill="#ff00ff"/><text x="195.50" y="442.80" font-family="Liberation Serif" font-size="16"><tspan font-style="italic">n</tspan> =13.815</text><path d="M270.40,437.60h4.1M295.20,437.60h3.6" stroke="#ffff00" stroke-width="1.8"/><path d="M290.42,437.60L283.00,433.33L283.00,441.87Z" fill="#ffff00"/><text x="300.90" y="442.80" font-family="Liberation Serif" font-size="16"><tspan font-style="italic">n</tspan> =14.815</text><path d="M375.60,437.60h4.1M400.40,437.60h3.6" stroke="#808000" stroke-width="1.8"/><path d="M391.70,433.75L395.03,435.68L395.03,439.53L391.70,441.45L388.37,439.53L388.37,435.68Z" fill="#808000"/><text x="406.10" y="442.80" font-family="Liberation Serif" font-size="16"><tspan font-style="italic">n</tspan> =15.815</text><path d="M50.7,806.80V1100.00H674.4" fill="none" stroke="#000" stroke-width="2"/><path d="M50.7,1100.00h6.3M50.7,1051.30h6.3M50.7,1002.60h6.3M50.7,953.90h6.3M50.7,905.20h6.3M50.7,856.50h6.3M50.7,807.80h6.3M50.70,1100.00v-6M128.65,1100.00v-6M206.60,1100.00v-6M284.55,1100.00v-6M362.50,1100.00v-6M440.45,1100.00v-6M518.40,1100.00v-6M596.35,1100.00v-6M674.30,1100.00v-6" stroke="#000" stroke-width="1.9" fill="none"/><g font-family="Liberation Serif" font-size="18" fill="#000"><text x="42.7" y="1105.30" text-anchor="end">1.3</text><text x="42.7" y="1056.60" text-anchor="end">1.4</text><text x="42.7" y="1007.90" text-anchor="end">1.5</text><text x="42.7" y="959.20" text-anchor="end">1.6</text><text x="42.7" y="910.50" text-anchor="end">1.7</text><text x="42.7" y="861.80" text-anchor="end">1.8</text><text x="42.7" y="813.10" text-anchor="end">1.9</text><text x="50.70" y="1121.20" text-anchor="middle">0.0</text><text x="128.65" y="1121.20" text-anchor="middle">0.1</text><text x="206.60" y="1121.20" text-anchor="middle">0.2</text><text x="284.55" y="1121.20" text-anchor="middle">0.3</text><text x="362.50" y="1121.20" text-anchor="middle">0.4</text><text x="440.45" y="1121.20" text-anchor="middle">0.5</text><text x="518.40" y="1121.20" text-anchor="middle">0.6</text><text x="596.35" y="1121.20" text-anchor="middle">0.7</text><text x="674.30" y="1121.20" text-anchor="middle">0.8</text><text x="351.5" y="1138.20" text-anchor="middle" font-size="18.6">Time/<tspan font-style="italic">h</tspan></text><text x="346.1" y="1163.20" text-anchor="middle" font-size="18.6">c. parameter <tspan font-style="italic">b</tspan></text><text transform="translate(22,962) rotate(-90)" text-anchor="middle" font-style="italic" font-size="20.5">ε</text></g><polyline points="55.40,1088.02 60.40,1085.05 65.40,1082.54 70.40,1080.52 79.00,1078.09 84.00,1076.75 89.00,1075.47 94.00,1074.29 104.60,1072.14 114.60,1070.78 124.40,1068.65 137.30,1067.07 147.80,1065.88 157.60,1064.42 168.10,1062.86 178.10,1061.69 191.00,1060.14 201.00,1058.46 212.30,1056.54 223.80,1055.13 234.00,1053.86 244.50,1051.99 257.10,1049.64 267.60,1048.23 277.80,1046.90 288.30,1045.22 298.80,1043.48 309.30,1041.88 320.90,1040.10 331.40,1038.35 343.70,1036.21 354.20,1034.34 364.70,1032.39 375.20,1030.26 387.50,1027.82 397.90,1026.12 408.40,1024.51 418.40,1018.18 431.20,1014.29 441.70,1009.90 451.60,995.30 461.80,987.16 474.40,977.37 484.90,966.85 495.20,959.16 505.50,951.03 518.20,941.63 528.50,933.98 538.50,925.90 548.80,917.08 559.10,908.80 569.60,898.87 581.70,887.47 592.20,878.76 602.50,868.87 615.00,856.16" fill="none" stroke="#000000" stroke-width="1.8" stroke-dasharray="3.6 8.8"/><rect x="51.90" y="1084.52" width="7.00" height="7.00" fill="#000000"/><rect x="56.90" y="1081.55" width="7.00" height="7.00" fill="#000000"/><rect x="61.90" y="1079.04" width="7.00" height="7.00" fill="#000000"/><rect x="66.90" y="1077.02" width="7.00" height="7.00" fill="#000000"/><rect x="75.50" y="1074.59" width="7.00" height="7.00" fill="#000000"/><rect x="80.50" y="1073.25" width="7.00" height="7.00" fill="#000000"/><rect x="85.50" y="1071.97" width="7.00" height="7.00" fill="#000000"/><rect x="90.50" y="1070.79" width="7.00" height="7.00" fill="#000000"/><rect x="101.10" y="1068.64" width="7.00" height="7.00" fill="#000000"/><rect x="111.10" y="1067.28" width="7.00" height="7.00" fill="#000000"/><rect x="120.90" y="1065.15" width="7.00" height="7.00" fill="#000000"/><rect x="133.80" y="1063.57" width="7.00" height="7.00" fill="#000000"/><rect x="144.30" y="1062.38" width="7.00" height="7.00" fill="#000000"/><rect x="154.10" y="1060.92" width="7.00" height="7.00" fill="#000000"/><rect x="164.60" y="1059.36" width="7.00" height="7.00" fill="#000000"/><rect x="174.60" y="1058.19" width="7.00" height="7.00" fill="#000000"/><rect x="187.50" y="1056.64" width="7.00" height="7.00" fill="#000000"/><rect x="197.50" y="1054.96" width="7.00" height="7.00" fill="#000000"/><rect x="208.80" y="1053.04" width="7.00" height="7.00" fill="#000000"/><rect x="220.30" y="1051.63" width="7.00" height="7.00" fill="#000000"/><rect x="230.50" y="1050.36" width="7.00" height="7.00" fill="#000000"/><rect x="241.00" y="1048.49" width="7.00" height="7.00" fill="#000000"/><rect x="253.60" y="1046.14" width="7.00" height="7.00" fill="#000000"/><rect x="264.10" y="1044.73" width="7.00" height="7.00" fill="#000000"/><rect x="274.30" y="1043.40" width="7.00" height="7.00" fill="#000000"/><rect x="284.80" y="1041.72" width="7.00" height="7.00" fill="#000000"/><rect x="295.30" y="1039.98" width="7.00" height="7.00" fill="#000000"/><rect x="305.80" y="1038.38" width="7.00" height="7.00" fill="#000000"/><rect x="317.40" y="1036.60" width="7.00" height="7.00" fill="#000000"/><rect x="327.90" y="1034.85" width="7.00" height="7.00" fill="#000000"/><rect x="340.20" y="1032.71" width="7.00" height="7.00" fill="#000000"/><rect x="350.70" y="1030.84" width="7.00" height="7.00" fill="#000000"/><rect x="361.20" y="1028.89" width="7.00" height="7.00" fill="#000000"/><rect x="371.70" y="1026.76" width="7.00" height="7.00" fill="#000000"/><rect x="384.00" y="1024.32" width="7.00" height="7.00" fill="#000000"/><rect x="394.40" y="1022.62" width="7.00" height="7.00" fill="#000000"/><rect x="404.90" y="1021.01" width="7.00" height="7.00" fill="#000000"/><rect x="414.90" y="1014.68" width="7.00" height="7.00" fill="#000000"/><rect x="427.70" y="1010.79" width="7.00" height="7.00" fill="#000000"/><rect x="438.20" y="1006.40" width="7.00" height="7.00" fill="#000000"/><rect x="448.10" y="991.80" width="7.00" height="7.00" fill="#000000"/><rect x="458.30" y="983.66" width="7.00" height="7.00" fill="#000000"/><rect x="470.90" y="973.87" width="7.00" height="7.00" fill="#000000"/><rect x="481.40" y="963.35" width="7.00" height="7.00" fill="#000000"/><rect x="491.70" y="955.66" width="7.00" height="7.00" fill="#000000"/><rect x="502.00" y="947.53" width="7.00" height="7.00" fill="#000000"/><rect x="514.70" y="938.13" width="7.00" height="7.00" fill="#000000"/><rect x="525.00" y="930.48" width="7.00" height="7.00" fill="#000000"/><rect x="535.00" y="922.40" width="7.00" height="7.00" fill="#000000"/><rect x="545.30" y="913.58" width="7.00" height="7.00" fill="#000000"/><rect x="555.60" y="905.30" width="7.00" height="7.00" fill="#000000"/><rect x="566.10" y="895.37" width="7.00" height="7.00" fill="#000000"/><rect x="578.20" y="883.97" width="7.00" height="7.00" fill="#000000"/><rect x="588.70" y="875.26" width="7.00" height="7.00" fill="#000000"/><rect x="599.00" y="865.37" width="7.00" height="7.00" fill="#000000"/><rect x="611.50" y="852.66" width="7.00" height="7.00" fill="#000000"/><polyline points="55.40,1088.02 60.40,1085.05 65.40,1082.54 70.40,1080.52 79.00,1078.09 84.00,1076.75 89.00,1075.47 94.00,1074.29 104.60,1072.14 114.60,1070.78 124.40,1068.65 137.30,1067.07 147.80,1065.88 157.60,1064.42 168.10,1062.86 178.10,1061.69 191.00,1060.14 201.00,1058.46 212.30,1056.54 223.80,1055.13 234.00,1053.86 244.50,1051.99 257.10,1049.64 267.60,1048.23 277.80,1046.90 288.30,1045.22 298.80,1043.48 309.30,1041.88 320.90,1040.10 331.40,1038.35 343.70,1036.21 354.20,1034.34 364.70,1032.39 375.20,1030.26 387.50,1027.82 397.90,1026.12 408.40,1014.63 418.40,1011.71 431.20,1006.98 441.70,1003.53 451.60,999.39 461.80,995.88 474.40,990.47 484.90,986.19 495.20,981.76 505.50,976.79 518.20,970.75 528.50,965.05 538.50,959.84 548.80,954.14 559.10,948.64 569.60,942.75 581.70,935.73 592.20,929.65 602.50,923.41 615.00,915.33" fill="none" stroke="#ff0000" stroke-width="1.8" stroke-dasharray="3.6 8.8"/><circle cx="55.40" cy="1088.02" r="3.68" fill="#ff0000"/><circle cx="60.40" cy="1085.05" r="3.68" fill="#ff0000"/><circle cx="65.40" cy="1082.54" r="3.68" fill="#ff0000"/><circle cx="70.40" cy="1080.52" r="3.68" fill="#ff0000"/><circle cx="79.00" cy="1078.09" r="3.68" fill="#ff0000"/><circle cx="84.00" cy="1076.75" r="3.68" fill="#ff0000"/><circle cx="89.00" cy="1075.47" r="3.68" fill="#ff0000"/><circle cx="94.00" cy="1074.29" r="3.68" fill="#ff0000"/><circle cx="104.60" cy="1072.14" r="3.68" fill="#ff0000"/><circle cx="114.60" cy="1070.78" r="3.68" fill="#ff0000"/><circle cx="124.40" cy="1068.65" r="3.68" fill="#ff0000"/><circle cx="137.30" cy="1067.07" r="3.68" fill="#ff0000"/><circle cx="147.80" cy="1065.88" r="3.68" fill="#ff0000"/><circle cx="157.60" cy="1064.42" r="3.68" fill="#ff0000"/><circle cx="168.10" cy="1062.86" r="3.68" fill="#ff0000"/><circle cx="178.10" cy="1061.69" r="3.68" fill="#ff0000"/><circle cx="191.00" cy="1060.14" r="3.68" fill="#ff0000"/><circle cx="201.00" cy="1058.46" r="3.68" fill="#ff0000"/><circle cx="212.30" cy="1056.54" r="3.68" fill="#ff0000"/><circle cx="223.80" cy="1055.13" r="3.68" fill="#ff0000"/><circle cx="234.00" cy="1053.86" r="3.68" fill="#ff0000"/><circle cx="244.50" cy="1051.99" r="3.68" fill="#ff0000"/><circle cx="257.10" cy="1049.64" r="3.68" fill="#ff0000"/><circle cx="267.60" cy="1048.23" r="3.68" fill="#ff0000"/><circle cx="277.80" cy="1046.90" r="3.68" fill="#ff0000"/><circle cx="288.30" cy="1045.22" r="3.68" fill="#ff0000"/><circle cx="298.80" cy="1043.48" r="3.68" fill="#ff0000"/><circle cx="309.30" cy="1041.88" r="3.68" fill="#ff0000"/><circle cx="320.90" cy="1040.10" r="3.68" fill="#ff0000"/><circle cx="331.40" cy="1038.35" r="3.68" fill="#ff0000"/><circle cx="343.70" cy="1036.21" r="3.68" fill="#ff0000"/><circle cx="354.20" cy="1034.34" r="3.68" fill="#ff0000"/><circle cx="364.70" cy="1032.39" r="3.68" fill="#ff0000"/><circle cx="375.20" cy="1030.26" r="3.68" fill="#ff0000"/><circle cx="387.50" cy="1027.82" r="3.68" fill="#ff0000"/><circle cx="397.90" cy="1026.12" r="3.68" fill="#ff0000"/><circle cx="408.40" cy="1014.63" r="3.68" fill="#ff0000"/><circle cx="418.40" cy="1011.71" r="3.68" fill="#ff0000"/><circle cx="431.20" cy="1006.98" r="3.68" fill="#ff0000"/><circle cx="441.70" cy="1003.53" r="3.68" fill="#ff0000"/><circle cx="451.60" cy="999.39" r="3.68" fill="#ff0000"/><circle cx="461.80" cy="995.88" r="3.68" fill="#ff0000"/><circle cx="474.40" cy="990.47" r="3.68" fill="#ff0000"/><circle cx="484.90" cy="986.19" r="3.68" fill="#ff0000"/><circle cx="495.20" cy="981.76" r="3.68" fill="#ff0000"/><circle cx="505.50" cy="976.79" r="3.68" fill="#ff0000"/><circle cx="518.20" cy="970.75" r="3.68" fill="#ff0000"/><circle cx="528.50" cy="965.05" r="3.68" fill="#ff0000"/><circle cx="538.50" cy="959.84" r="3.68" fill="#ff0000"/><circle cx="548.80" cy="954.14" r="3.68" fill="#ff0000"/><circle cx="559.10" cy="948.64" r="3.68" fill="#ff0000"/><circle cx="569.60" cy="942.75" r="3.68" fill="#ff0000"/><circle cx="581.70" cy="935.73" r="3.68" fill="#ff0000"/><circle cx="592.20" cy="929.65" r="3.68" fill="#ff0000"/><circle cx="602.50" cy="923.41" r="3.68" fill="#ff0000"/><circle cx="615.00" cy="915.33" r="3.68" fill="#ff0000"/><polyline points="55.40,1088.02 60.40,1085.05 65.40,1082.54 70.40,1080.52 79.00,1078.09 84.00,1076.75 89.00,1075.47 94.00,1074.29 104.60,1072.14 114.60,1070.78 124.40,1068.65 137.30,1067.07 147.80,1065.88 157.60,1064.42 168.10,1062.86 178.10,1061.69 191.00,1060.14 201.00,1058.46 212.30,1056.54 223.80,1055.13 234.00,1053.86 244.50,1051.99 257.10,1049.64 267.60,1048.23 277.80,1046.90 288.30,1045.22 298.80,1043.48 309.30,1041.88 320.90,1040.10 331.40,1038.35 343.70,1036.21 354.20,1034.34 364.70,1032.39 375.20,1030.26 387.50,1027.82 397.90,1026.12 408.40,1015.80 418.40,1012.92 431.20,1008.78 441.70,1005.52 451.60,1002.31 461.80,999.39 474.40,995.78 484.90,992.67 495.20,988.77 505.50,984.39 518.20,979.56 528.50,975.67 538.50,971.29 548.80,966.46 559.10,961.35 569.60,956.97 581.70,951.56 592.20,946.74 602.50,941.04 615.00,935.05" fill="none" stroke="#00ff00" stroke-width="1.8" stroke-dasharray="3.6 8.8"/><path d="M55.40,1084.17L59.49,1091.34L51.30,1091.34Z" fill="#00ff00"/><path d="M60.40,1081.20L64.50,1088.37L56.30,1088.37Z" fill="#00ff00"/><path d="M65.40,1078.69L69.50,1085.86L61.31,1085.86Z" fill="#00ff00"/><path d="M70.40,1076.67L74.50,1083.85L66.31,1083.85Z" fill="#00ff00"/><path d="M79.00,1074.24L83.09,1081.41L74.91,1081.41Z" fill="#00ff00"/><path d="M84.00,1072.90L88.09,1080.08L79.91,1080.08Z" fill="#00ff00"/><path d="M89.00,1071.62L93.09,1078.80L84.91,1078.80Z" fill="#00ff00"/><path d="M94.00,1070.44L98.09,1077.61L89.91,1077.61Z" fill="#00ff00"/><path d="M104.60,1068.29L108.69,1075.47L100.50,1075.47Z" fill="#00ff00"/><path d="M114.60,1066.93L118.69,1074.11L110.50,1074.11Z" fill="#00ff00"/><path d="M124.40,1064.80L128.50,1071.98L120.31,1071.98Z" fill="#00ff00"/><path d="M137.30,1063.22L141.40,1070.40L133.21,1070.40Z" fill="#00ff00"/><path d="M147.80,1062.03L151.90,1069.21L143.71,1069.21Z" fill="#00ff00"/><path d="M157.60,1060.57L161.69,1067.75L153.50,1067.75Z" fill="#00ff00"/><path d="M168.10,1059.01L172.19,1066.19L164.00,1066.19Z" fill="#00ff00"/><path d="M178.10,1057.84L182.19,1065.01L174.00,1065.01Z" fill="#00ff00"/><path d="M191.00,1056.29L195.09,1063.47L186.91,1063.47Z" fill="#00ff00"/><path d="M201.00,1054.61L205.09,1061.79L196.91,1061.79Z" fill="#00ff00"/><path d="M212.30,1052.69L216.40,1059.86L208.21,1059.86Z" fill="#00ff00"/><path d="M223.80,1051.28L227.90,1058.46L219.71,1058.46Z" fill="#00ff00"/><path d="M234.00,1050.01L238.09,1057.18L229.91,1057.18Z" fill="#00ff00"/><path d="M244.50,1048.14L248.59,1055.32L240.41,1055.32Z" fill="#00ff00"/><path d="M257.10,1045.79L261.20,1052.97L253.01,1052.97Z" fill="#00ff00"/><path d="M267.60,1044.38L271.70,1051.56L263.50,1051.56Z" fill="#00ff00"/><path d="M277.80,1043.05L281.90,1050.23L273.70,1050.23Z" fill="#00ff00"/><path d="M288.30,1041.37L292.40,1048.54L284.20,1048.54Z" fill="#00ff00"/><path d="M298.80,1039.63L302.90,1046.80L294.70,1046.80Z" fill="#00ff00"/><path d="M309.30,1038.03L313.40,1045.21L305.20,1045.21Z" fill="#00ff00"/><path d="M320.90,1036.25L325.00,1043.42L316.80,1043.42Z" fill="#00ff00"/><path d="M331.40,1034.50L335.50,1041.68L327.30,1041.68Z" fill="#00ff00"/><path d="M343.70,1032.36L347.80,1039.54L339.60,1039.54Z" fill="#00ff00"/><path d="M354.20,1030.49L358.30,1037.66L350.10,1037.66Z" fill="#00ff00"/><path d="M364.70,1028.54L368.80,1035.71L360.60,1035.71Z" fill="#00ff00"/><path d="M375.20,1026.41L379.30,1033.58L371.10,1033.58Z" fill="#00ff00"/><path d="M387.50,1023.97L391.60,1031.14L383.40,1031.14Z" fill="#00ff00"/><path d="M397.90,1022.27L402.00,1029.45L393.80,1029.45Z" fill="#00ff00"/><path d="M408.40,1011.95L412.50,1019.12L404.30,1019.12Z" fill="#00ff00"/><path d="M418.40,1009.07L422.50,1016.25L414.30,1016.25Z" fill="#00ff00"/><path d="M431.20,1004.93L435.30,1012.11L427.10,1012.11Z" fill="#00ff00"/><path d="M441.70,1001.67L445.80,1008.85L437.60,1008.85Z" fill="#00ff00"/><path d="M451.60,998.46L455.70,1005.63L447.50,1005.63Z" fill="#00ff00"/><path d="M461.80,995.54L465.90,1002.71L457.70,1002.71Z" fill="#00ff00"/><path d="M474.40,991.93L478.50,999.11L470.30,999.11Z" fill="#00ff00"/><path d="M484.90,988.82L489.00,995.99L480.80,995.99Z" fill="#00ff00"/><path d="M495.20,984.92L499.30,992.09L491.10,992.09Z" fill="#00ff00"/><path d="M505.50,980.54L509.60,987.71L501.40,987.71Z" fill="#00ff00"/><path d="M518.20,975.71L522.30,982.89L514.11,982.89Z" fill="#00ff00"/><path d="M528.50,971.82L532.60,978.99L524.40,978.99Z" fill="#00ff00"/><path d="M538.50,967.44L542.60,974.61L534.40,974.61Z" fill="#00ff00"/><path d="M548.80,962.61L552.89,969.79L544.70,969.79Z" fill="#00ff00"/><path d="M559.10,957.50L563.20,964.68L555.00,964.68Z" fill="#00ff00"/><path d="M569.60,953.12L573.70,960.29L565.50,960.29Z" fill="#00ff00"/><path d="M581.70,947.71L585.80,954.89L577.61,954.89Z" fill="#00ff00"/><path d="M592.20,942.89L596.30,950.07L588.11,950.07Z" fill="#00ff00"/><path d="M602.50,937.19L606.60,944.37L598.40,944.37Z" fill="#00ff00"/><path d="M615.00,931.20L619.10,938.38L610.90,938.38Z" fill="#00ff00"/><polyline points="55.40,1088.02 60.40,1085.05 65.40,1082.54 70.40,1080.52 79.00,1078.09 84.00,1076.75 89.00,1075.47 94.00,1074.29 104.60,1072.14 114.60,1070.78 124.40,1068.65 137.30,1067.07 147.80,1065.88 157.60,1064.42 168.10,1062.86 178.10,1061.69 191.00,1060.14 201.00,1058.46 212.30,1056.54 223.80,1055.13 234.00,1053.86 244.50,1051.99 257.10,1049.64 267.60,1048.23 277.80,1046.90 288.30,1045.22 298.80,1043.48 309.30,1041.88 320.90,1040.10 331.40,1038.35 343.70,1036.21 354.20,1034.34 364.70,1032.39 375.20,1030.26 387.50,1027.82 397.90,1026.12 408.40,1018.14 418.40,1015.26 431.20,1011.37 441.70,1008.44 451.60,1005.52 461.80,1002.60 474.40,998.61 484.90,996.51 495.20,993.20 505.50,989.89 518.20,984.39 528.50,981.76 538.50,977.76 548.80,973.87 559.10,969.05 569.60,965.05 581.70,959.84 592.20,955.85 602.50,951.95 615.00,946.74" fill="none" stroke="#0000ff" stroke-width="1.8" stroke-dasharray="3.6 8.8"/><path d="M55.40,1091.87L59.49,1084.69L51.30,1084.69Z" fill="#0000ff"/><path d="M60.40,1088.90L64.50,1081.72L56.30,1081.72Z" fill="#0000ff"/><path d="M65.40,1086.39L69.50,1079.21L61.31,1079.21Z" fill="#0000ff"/><path d="M70.40,1084.37L74.50,1077.19L66.31,1077.19Z" fill="#0000ff"/><path d="M79.00,1081.93L83.09,1074.76L74.91,1074.76Z" fill="#0000ff"/><path d="M84.00,1080.60L88.09,1073.43L79.91,1073.43Z" fill="#0000ff"/><path d="M89.00,1079.32L93.09,1072.15L84.91,1072.15Z" fill="#0000ff"/><path d="M94.00,1078.14L98.09,1070.96L89.91,1070.96Z" fill="#0000ff"/><path d="M104.60,1075.99L108.69,1068.82L100.50,1068.82Z" fill="#0000ff"/><path d="M114.60,1074.63L118.69,1067.45L110.50,1067.45Z" fill="#0000ff"/><path d="M124.40,1072.50L128.50,1065.33L120.31,1065.33Z" fill="#0000ff"/><path d="M137.30,1070.92L141.40,1063.75L133.21,1063.75Z" fill="#0000ff"/><path d="M147.80,1069.73L151.90,1062.56L143.71,1062.56Z" fill="#0000ff"/><path d="M157.60,1068.27L161.69,1061.10L153.50,1061.10Z" fill="#0000ff"/><path d="M168.10,1066.71L172.19,1059.54L164.00,1059.54Z" fill="#0000ff"/><path d="M178.10,1065.54L182.19,1058.36L174.00,1058.36Z" fill="#0000ff"/><path d="M191.00,1063.99L195.09,1056.82L186.91,1056.82Z" fill="#0000ff"/><path d="M201.00,1062.31L205.09,1055.14L196.91,1055.14Z" fill="#0000ff"/><path d="M212.30,1060.39L216.40,1053.21L208.21,1053.21Z" fill="#0000ff"/><path d="M223.80,1058.98L227.90,1051.81L219.71,1051.81Z" fill="#0000ff"/><path d="M234.00,1057.71L238.09,1050.53L229.91,1050.53Z" fill="#0000ff"/><path d="M244.50,1055.84L248.59,1048.67L240.41,1048.67Z" fill="#0000ff"/><path d="M257.10,1053.49L261.20,1046.32L253.01,1046.32Z" fill="#0000ff"/><path d="M267.60,1052.08L271.70,1044.91L263.50,1044.91Z" fill="#0000ff"/><path d="M277.80,1050.75L281.90,1043.58L273.70,1043.58Z" fill="#0000ff"/><path d="M288.30,1049.07L292.40,1041.89L284.20,1041.89Z" fill="#0000ff"/><path d="M298.80,1047.33L302.90,1040.15L294.70,1040.15Z" fill="#0000ff"/><path d="M309.30,1045.73L313.40,1038.56L305.20,1038.56Z" fill="#0000ff"/><path d="M320.90,1043.95L325.00,1036.77L316.80,1036.77Z" fill="#0000ff"/><path d="M331.40,1042.20L335.50,1035.03L327.30,1035.03Z" fill="#0000ff"/><path d="M343.70,1040.06L347.80,1032.89L339.60,1032.89Z" fill="#0000ff"/><path d="M354.20,1038.19L358.30,1031.01L350.10,1031.01Z" fill="#0000ff"/><path d="M364.70,1036.24L368.80,1029.06L360.60,1029.06Z" fill="#0000ff"/><path d="M375.20,1034.11L379.30,1026.93L371.10,1026.93Z" fill="#0000ff"/><path d="M387.50,1031.67L391.60,1024.49L383.40,1024.49Z" fill="#0000ff"/><path d="M397.90,1029.97L402.00,1022.80L393.80,1022.80Z" fill="#0000ff"/><path d="M408.40,1021.99L412.50,1014.81L404.30,1014.81Z" fill="#0000ff"/><path d="M418.40,1019.11L422.50,1011.94L414.30,1011.94Z" fill="#0000ff"/><path d="M431.20,1015.22L435.30,1008.04L427.10,1008.04Z" fill="#0000ff"/><path d="M441.70,1012.29L445.80,1005.12L437.60,1005.12Z" fill="#0000ff"/><path d="M451.60,1009.37L455.70,1002.20L447.50,1002.20Z" fill="#0000ff"/><path d="M461.80,1006.45L465.90,999.27L457.70,999.27Z" fill="#0000ff"/><path d="M474.40,1002.46L478.50,995.28L470.30,995.28Z" fill="#0000ff"/><path d="M484.90,1000.36L489.00,993.19L480.80,993.19Z" fill="#0000ff"/><path d="M495.20,997.05L499.30,989.88L491.10,989.88Z" fill="#0000ff"/><path d="M505.50,993.74L509.60,986.56L501.40,986.56Z" fill="#0000ff"/><path d="M518.20,988.24L522.30,981.06L514.11,981.06Z" fill="#0000ff"/><path d="M528.50,985.61L532.60,978.43L524.40,978.43Z" fill="#0000ff"/><path d="M538.50,981.61L542.60,974.44L534.40,974.44Z" fill="#0000ff"/><path d="M548.80,977.72L552.89,970.54L544.70,970.54Z" fill="#0000ff"/><path d="M559.10,972.90L563.20,965.72L555.00,965.72Z" fill="#0000ff"/><path d="M569.60,968.90L573.70,961.73L565.50,961.73Z" fill="#0000ff"/><path d="M581.70,963.69L585.80,956.52L577.61,956.52Z" fill="#0000ff"/><path d="M592.20,959.70L596.30,952.52L588.11,952.52Z" fill="#0000ff"/><path d="M602.50,955.80L606.60,948.63L598.40,948.63Z" fill="#0000ff"/><path d="M615.00,950.59L619.10,943.42L610.90,943.42Z" fill="#0000ff"/><polyline points="55.40,1088.02 60.40,1085.05 65.40,1082.54 70.40,1080.52 79.00,1078.09 84.00,1076.75 89.00,1075.47 94.00,1074.29 104.60,1072.14 114.60,1070.78 124.40,1068.65 137.30,1067.07 147.80,1065.88 157.60,1064.42 168.10,1062.86 178.10,1061.69 191.00,1060.14 201.00,1058.46 212.30,1056.54 223.80,1055.13 234.00,1053.86 244.50,1051.99 257.10,1049.64 267.60,1048.23 277.80,1046.90 288.30,1045.22 298.80,1043.48 309.30,1041.88 320.90,1040.10 331.40,1038.35 343.70,1036.21 354.20,1034.34 364.70,1032.39 375.20,1030.26 387.50,1027.82 397.90,1026.12 408.40,1019.38 418.40,1016.79 431.20,1013.19 441.70,1010.44 451.60,1007.54 461.80,1004.83 474.40,1000.97 484.90,998.46 495.20,995.39 505.50,992.01 518.20,987.37 528.50,984.68 538.50,981.08 548.80,977.51 559.10,972.97 569.60,969.28 581.70,964.35 592.20,960.76 602.50,957.18 615.00,952.00" fill="none" stroke="#00ffff" stroke-width="1.8" stroke-dasharray="3.6 8.8"/><path d="M55.40,1083.47L59.95,1088.02L55.40,1092.57L50.85,1088.02Z" fill="#00ffff"/><path d="M60.40,1080.50L64.95,1085.05L60.40,1089.60L55.85,1085.05Z" fill="#00ffff"/><path d="M65.40,1077.99L69.95,1082.54L65.40,1087.09L60.85,1082.54Z" fill="#00ffff"/><path d="M70.40,1075.97L74.95,1080.52L70.40,1085.07L65.85,1080.52Z" fill="#00ffff"/><path d="M79.00,1073.54L83.55,1078.09L79.00,1082.63L74.45,1078.09Z" fill="#00ffff"/><path d="M84.00,1072.20L88.55,1076.75L84.00,1081.30L79.45,1076.75Z" fill="#00ffff"/><path d="M89.00,1070.92L93.55,1075.47L89.00,1080.02L84.45,1075.47Z" fill="#00ffff"/><path d="M94.00,1069.74L98.55,1074.29L94.00,1078.84L89.45,1074.29Z" fill="#00ffff"/><path d="M104.60,1067.59L109.15,1072.14L104.60,1076.69L100.05,1072.14Z" fill="#00ffff"/><path d="M114.60,1066.23L119.15,1070.78L114.60,1075.33L110.05,1070.78Z" fill="#00ffff"/><path d="M124.40,1064.10L128.95,1068.65L124.40,1073.20L119.85,1068.65Z" fill="#00ffff"/><path d="M137.30,1062.52L141.85,1067.07L137.30,1071.62L132.75,1067.07Z" fill="#00ffff"/><path d="M147.80,1061.33L152.35,1065.88L147.80,1070.43L143.25,1065.88Z" fill="#00ffff"/><path d="M157.60,1059.87L162.15,1064.42L157.60,1068.97L153.05,1064.42Z" fill="#00ffff"/><path d="M168.10,1058.31L172.65,1062.86L168.10,1067.41L163.55,1062.86Z" fill="#00ffff"/><path d="M178.10,1057.14L182.65,1061.69L178.10,1066.24L173.55,1061.69Z" fill="#00ffff"/><path d="M191.00,1055.59L195.55,1060.14L191.00,1064.69L186.45,1060.14Z" fill="#00ffff"/><path d="M201.00,1053.91L205.55,1058.46L201.00,1063.01L196.45,1058.46Z" fill="#00ffff"/><path d="M212.30,1051.99L216.85,1056.54L212.30,1061.09L207.75,1056.54Z" fill="#00ffff"/><path d="M223.80,1050.58L228.35,1055.13L223.80,1059.68L219.25,1055.13Z" fill="#00ffff"/><path d="M234.00,1049.31L238.55,1053.86L234.00,1058.41L229.45,1053.86Z" fill="#00ffff"/><path d="M244.50,1047.44L249.05,1051.99L244.50,1056.54L239.95,1051.99Z" fill="#00ffff"/><path d="M257.10,1045.09L261.65,1049.64L257.10,1054.19L252.55,1049.64Z" fill="#00ffff"/><path d="M267.60,1043.68L272.15,1048.23L267.60,1052.78L263.05,1048.23Z" fill="#00ffff"/><path d="M277.80,1042.35L282.35,1046.90L277.80,1051.45L273.25,1046.90Z" fill="#00ffff"/><path d="M288.30,1040.67L292.85,1045.22L288.30,1049.77L283.75,1045.22Z" fill="#00ffff"/><path d="M298.80,1038.93L303.35,1043.48L298.80,1048.03L294.25,1043.48Z" fill="#00ffff"/><path d="M309.30,1037.33L313.85,1041.88L309.30,1046.43L304.75,1041.88Z" fill="#00ffff"/><path d="M320.90,1035.55L325.45,1040.10L320.90,1044.65L316.35,1040.10Z" fill="#00ffff"/><path d="M331.40,1033.80L335.95,1038.35L331.40,1042.90L326.85,1038.35Z" fill="#00ffff"/><path d="M343.70,1031.66L348.25,1036.21L343.70,1040.76L339.15,1036.21Z" fill="#00ffff"/><path d="M354.20,1029.79L358.75,1034.34L354.20,1038.89L349.65,1034.34Z" fill="#00ffff"/><path d="M364.70,1027.84L369.25,1032.39L364.70,1036.94L360.15,1032.39Z" fill="#00ffff"/><path d="M375.20,1025.71L379.75,1030.26L375.20,1034.81L370.65,1030.26Z" fill="#00ffff"/><path d="M387.50,1023.27L392.05,1027.82L387.50,1032.37L382.95,1027.82Z" fill="#00ffff"/><path d="M397.90,1021.57L402.45,1026.12L397.90,1030.67L393.35,1026.12Z" fill="#00ffff"/><path d="M408.40,1014.83L412.95,1019.38L408.40,1023.93L403.85,1019.38Z" fill="#00ffff"/><path d="M418.40,1012.24L422.95,1016.79L418.40,1021.34L413.85,1016.79Z" fill="#00ffff"/><path d="M431.20,1008.64L435.75,1013.19L431.20,1017.74L426.65,1013.19Z" fill="#00ffff"/><path d="M441.70,1005.89L446.25,1010.44L441.70,1014.99L437.15,1010.44Z" fill="#00ffff"/><path d="M451.60,1002.99L456.15,1007.54L451.60,1012.09L447.05,1007.54Z" fill="#00ffff"/><path d="M461.80,1000.28L466.35,1004.83L461.80,1009.38L457.25,1004.83Z" fill="#00ffff"/><path d="M474.40,996.42L478.95,1000.97L474.40,1005.52L469.85,1000.97Z" fill="#00ffff"/><path d="M484.90,993.91L489.45,998.46L484.90,1003.01L480.35,998.46Z" fill="#00ffff"/><path d="M495.20,990.84L499.75,995.39L495.20,999.94L490.65,995.39Z" fill="#00ffff"/><path d="M505.50,987.46L510.05,992.01L505.50,996.56L500.95,992.01Z" fill="#00ffff"/><path d="M518.20,982.82L522.75,987.37L518.20,991.92L513.65,987.37Z" fill="#00ffff"/><path d="M528.50,980.13L533.05,984.68L528.50,989.23L523.95,984.68Z" fill="#00ffff"/><path d="M538.50,976.53L543.05,981.08L538.50,985.63L533.95,981.08Z" fill="#00ffff"/><path d="M548.80,972.96L553.35,977.51L548.80,982.06L544.25,977.51Z" fill="#00ffff"/><path d="M559.10,968.42L563.65,972.97L559.10,977.52L554.55,972.97Z" fill="#00ffff"/><path d="M569.60,964.73L574.15,969.28L569.60,973.83L565.05,969.28Z" fill="#00ffff"/><path d="M581.70,959.80L586.25,964.35L581.70,968.90L577.15,964.35Z" fill="#00ffff"/><path d="M592.20,956.21L596.75,960.76L592.20,965.31L587.65,960.76Z" fill="#00ffff"/><path d="M602.50,952.63L607.05,957.18L602.50,961.73L597.95,957.18Z" fill="#00ffff"/><path d="M615.00,947.45L619.55,952.00L615.00,956.55L610.45,952.00Z" fill="#00ffff"/><polyline points="55.40,1088.02 60.40,1085.05 65.40,1082.54 70.40,1080.52 79.00,1078.09 84.00,1076.75 89.00,1075.47 94.00,1074.29 104.60,1072.14 114.60,1070.78 124.40,1068.65 137.30,1067.07 147.80,1065.88 157.60,1064.42 168.10,1062.86 178.10,1061.69 191.00,1060.14 201.00,1058.46 212.30,1056.54 223.80,1055.13 234.00,1053.86 244.50,1051.99 257.10,1049.64 267.60,1048.23 277.80,1046.90 288.30,1045.22 298.80,1043.48 309.30,1041.88 320.90,1040.10 331.40,1038.35 343.70,1036.21 354.20,1034.34 364.70,1032.39 375.20,1030.26 387.50,1027.82 397.90,1026.12 408.40,1020.28 418.40,1017.89 431.20,1014.51 441.70,1011.89 451.60,1008.99 461.80,1006.43 474.40,1002.68 484.90,999.86 495.20,996.98 505.50,993.54 518.20,989.52 528.50,986.80 538.50,983.47 548.80,980.15 559.10,975.81 569.60,972.33 581.70,967.60 592.20,964.30 602.50,960.95 615.00,955.80" fill="none" stroke="#ff00ff" stroke-width="1.8" stroke-dasharray="3.6 8.8"/><path d="M51.48,1088.02L58.90,1083.75L58.90,1092.29Z" fill="#ff00ff"/><path d="M56.48,1085.05L63.90,1080.78L63.90,1089.32Z" fill="#ff00ff"/><path d="M61.48,1082.54L68.90,1078.27L68.90,1086.81Z" fill="#ff00ff"/><path d="M66.48,1080.52L73.90,1076.25L73.90,1084.79Z" fill="#ff00ff"/><path d="M75.08,1078.09L82.50,1073.82L82.50,1082.36Z" fill="#ff00ff"/><path d="M80.08,1076.75L87.50,1072.48L87.50,1081.02Z" fill="#ff00ff"/><path d="M85.08,1075.47L92.50,1071.20L92.50,1079.74Z" fill="#ff00ff"/><path d="M90.08,1074.29L97.50,1070.02L97.50,1078.56Z" fill="#ff00ff"/><path d="M100.68,1072.14L108.10,1067.87L108.10,1076.41Z" fill="#ff00ff"/><path d="M110.68,1070.78L118.10,1066.51L118.10,1075.05Z" fill="#ff00ff"/><path d="M120.48,1068.65L127.90,1064.38L127.90,1072.92Z" fill="#ff00ff"/><path d="M133.38,1067.07L140.80,1062.80L140.80,1071.34Z" fill="#ff00ff"/><path d="M143.88,1065.88L151.30,1061.61L151.30,1070.15Z" fill="#ff00ff"/><path d="M153.68,1064.42L161.10,1060.15L161.10,1068.69Z" fill="#ff00ff"/><path d="M164.18,1062.86L171.60,1058.59L171.60,1067.13Z" fill="#ff00ff"/><path d="M174.18,1061.69L181.60,1057.42L181.60,1065.96Z" fill="#ff00ff"/><path d="M187.08,1060.14L194.50,1055.87L194.50,1064.41Z" fill="#ff00ff"/><path d="M197.08,1058.46L204.50,1054.19L204.50,1062.73Z" fill="#ff00ff"/><path d="M208.38,1056.54L215.80,1052.27L215.80,1060.81Z" fill="#ff00ff"/><path d="M219.88,1055.13L227.30,1050.86L227.30,1059.40Z" fill="#ff00ff"/><path d="M230.08,1053.86L237.50,1049.59L237.50,1058.13Z" fill="#ff00ff"/><path d="M240.58,1051.99L248.00,1047.72L248.00,1056.26Z" fill="#ff00ff"/><path d="M253.18,1049.64L260.60,1045.37L260.60,1053.91Z" fill="#ff00ff"/><path d="M263.68,1048.23L271.10,1043.96L271.10,1052.50Z" fill="#ff00ff"/><path d="M273.88,1046.90L281.30,1042.63L281.30,1051.17Z" fill="#ff00ff"/><path d="M284.38,1045.22L291.80,1040.95L291.80,1049.49Z" fill="#ff00ff"/><path d="M294.88,1043.48L302.30,1039.21L302.30,1047.75Z" fill="#ff00ff"/><path d="M305.38,1041.88L312.80,1037.61L312.80,1046.15Z" fill="#ff00ff"/><path d="M316.98,1040.10L324.40,1035.83L324.40,1044.37Z" fill="#ff00ff"/><path d="M327.48,1038.35L334.90,1034.08L334.90,1042.62Z" fill="#ff00ff"/><path d="M339.78,1036.21L347.20,1031.94L347.20,1040.48Z" fill="#ff00ff"/><path d="M350.28,1034.34L357.70,1030.07L357.70,1038.61Z" fill="#ff00ff"/><path d="M360.78,1032.39L368.20,1028.12L368.20,1036.66Z" fill="#ff00ff"/><path d="M371.28,1030.26L378.70,1025.99L378.70,1034.53Z" fill="#ff00ff"/><path d="M383.58,1027.82L391.00,1023.55L391.00,1032.09Z" fill="#ff00ff"/><path d="M393.98,1026.12L401.40,1021.85L401.40,1030.39Z" fill="#ff00ff"/><path d="M404.48,1020.28L411.90,1016.01L411.90,1024.55Z" fill="#ff00ff"/><path d="M414.48,1017.89L421.90,1013.62L421.90,1022.16Z" fill="#ff00ff"/><path d="M427.28,1014.51L434.70,1010.24L434.70,1018.78Z" fill="#ff00ff"/><path d="M437.78,1011.89L445.20,1007.62L445.20,1016.16Z" fill="#ff00ff"/><path d="M447.68,1008.99L455.10,1004.72L455.10,1013.26Z" fill="#ff00ff"/><path d="M457.88,1006.43L465.30,1002.16L465.30,1010.70Z" fill="#ff00ff"/><path d="M470.48,1002.68L477.90,998.41L477.90,1006.95Z" fill="#ff00ff"/><path d="M480.98,999.86L488.40,995.59L488.40,1004.13Z" fill="#ff00ff"/><path d="M491.28,996.98L498.70,992.71L498.70,1001.25Z" fill="#ff00ff"/><path d="M501.58,993.54L509.00,989.27L509.00,997.81Z" fill="#ff00ff"/><path d="M514.28,989.52L521.70,985.25L521.70,993.79Z" fill="#ff00ff"/><path d="M524.58,986.80L532.00,982.53L532.00,991.07Z" fill="#ff00ff"/><path d="M534.58,983.47L542.00,979.20L542.00,987.74Z" fill="#ff00ff"/><path d="M544.88,980.15L552.30,975.88L552.30,984.42Z" fill="#ff00ff"/><path d="M555.18,975.81L562.60,971.54L562.60,980.08Z" fill="#ff00ff"/><path d="M565.68,972.33L573.10,968.06L573.10,976.60Z" fill="#ff00ff"/><path d="M577.78,967.60L585.20,963.33L585.20,971.87Z" fill="#ff00ff"/><path d="M588.28,964.30L595.70,960.03L595.70,968.57Z" fill="#ff00ff"/><path d="M598.58,960.95L606.00,956.68L606.00,965.22Z" fill="#ff00ff"/><path d="M611.08,955.80L618.50,951.53L618.50,960.07Z" fill="#ff00ff"/><polyline points="55.40,1088.02 60.40,1085.05 65.40,1082.54 70.40,1080.52 79.00,1078.09 84.00,1076.75 89.00,1075.47 94.00,1074.29 104.60,1072.14 114.60,1070.78 124.40,1068.65 137.30,1067.07 147.80,1065.88 157.60,1064.42 168.10,1062.86 178.10,1061.69 191.00,1060.14 201.00,1058.46 212.30,1056.54 223.80,1055.13 234.00,1053.86 244.50,1051.99 257.10,1049.64 267.60,1048.23 277.80,1046.90 288.30,1045.22 298.80,1043.48 309.30,1041.88 320.90,1040.10 331.40,1038.35 343.70,1036.21 354.20,1034.34 364.70,1032.39 375.20,1030.26 387.50,1027.82 397.90,1026.12 408.40,1021.04 418.40,1018.82 431.20,1015.62 441.70,1013.11 451.60,1010.23 461.80,1007.80 474.40,1004.13 484.90,1001.05 495.20,998.31 505.50,994.84 518.20,991.34 528.50,988.59 538.50,985.49 548.80,982.38 559.10,978.21 569.60,974.91 581.70,970.35 592.20,967.30 602.50,964.14 615.00,959.01" fill="none" stroke="#ffff00" stroke-width="1.8" stroke-dasharray="3.6 8.8"/><path d="M59.32,1088.02L51.90,1083.75L51.90,1092.29Z" fill="#ffff00"/><path d="M64.32,1085.05L56.90,1080.78L56.90,1089.32Z" fill="#ffff00"/><path d="M69.32,1082.54L61.90,1078.27L61.90,1086.81Z" fill="#ffff00"/><path d="M74.32,1080.52L66.90,1076.25L66.90,1084.79Z" fill="#ffff00"/><path d="M82.92,1078.09L75.50,1073.82L75.50,1082.36Z" fill="#ffff00"/><path d="M87.92,1076.75L80.50,1072.48L80.50,1081.02Z" fill="#ffff00"/><path d="M92.92,1075.47L85.50,1071.20L85.50,1079.74Z" fill="#ffff00"/><path d="M97.92,1074.29L90.50,1070.02L90.50,1078.56Z" fill="#ffff00"/><path d="M108.52,1072.14L101.10,1067.87L101.10,1076.41Z" fill="#ffff00"/><path d="M118.52,1070.78L111.10,1066.51L111.10,1075.05Z" fill="#ffff00"/><path d="M128.32,1068.65L120.90,1064.38L120.90,1072.92Z" fill="#ffff00"/><path d="M141.22,1067.07L133.80,1062.80L133.80,1071.34Z" fill="#ffff00"/><path d="M151.72,1065.88L144.30,1061.61L144.30,1070.15Z" fill="#ffff00"/><path d="M161.52,1064.42L154.10,1060.15L154.10,1068.69Z" fill="#ffff00"/><path d="M172.02,1062.86L164.60,1058.59L164.60,1067.13Z" fill="#ffff00"/><path d="M182.02,1061.69L174.60,1057.42L174.60,1065.96Z" fill="#ffff00"/><path d="M194.92,1060.14L187.50,1055.87L187.50,1064.41Z" fill="#ffff00"/><path d="M204.92,1058.46L197.50,1054.19L197.50,1062.73Z" fill="#ffff00"/><path d="M216.22,1056.54L208.80,1052.27L208.80,1060.81Z" fill="#ffff00"/><path d="M227.72,1055.13L220.30,1050.86L220.30,1059.40Z" fill="#ffff00"/><path d="M237.92,1053.86L230.50,1049.59L230.50,1058.13Z" fill="#ffff00"/><path d="M248.42,1051.99L241.00,1047.72L241.00,1056.26Z" fill="#ffff00"/><path d="M261.02,1049.64L253.60,1045.37L253.60,1053.91Z" fill="#ffff00"/><path d="M271.52,1048.23L264.10,1043.96L264.10,1052.50Z" fill="#ffff00"/><path d="M281.72,1046.90L274.30,1042.63L274.30,1051.17Z" fill="#ffff00"/><path d="M292.22,1045.22L284.80,1040.95L284.80,1049.49Z" fill="#ffff00"/><path d="M302.72,1043.48L295.30,1039.21L295.30,1047.75Z" fill="#ffff00"/><path d="M313.22,1041.88L305.80,1037.61L305.80,1046.15Z" fill="#ffff00"/><path d="M324.82,1040.10L317.40,1035.83L317.40,1044.37Z" fill="#ffff00"/><path d="M335.32,1038.35L327.90,1034.08L327.90,1042.62Z" fill="#ffff00"/><path d="M347.62,1036.21L340.20,1031.94L340.20,1040.48Z" fill="#ffff00"/><path d="M358.12,1034.34L350.70,1030.07L350.70,1038.61Z" fill="#ffff00"/><path d="M368.62,1032.39L361.20,1028.12L361.20,1036.66Z" fill="#ffff00"/><path d="M379.12,1030.26L371.70,1025.99L371.70,1034.53Z" fill="#ffff00"/><path d="M391.42,1027.82L384.00,1023.55L384.00,1032.09Z" fill="#ffff00"/><path d="M401.82,1026.12L394.40,1021.85L394.40,1030.39Z" fill="#ffff00"/><path d="M412.32,1021.04L404.90,1016.77L404.90,1025.31Z" fill="#ffff00"/><path d="M422.32,1018.82L414.90,1014.55L414.90,1023.09Z" fill="#ffff00"/><path d="M435.12,1015.62L427.70,1011.35L427.70,1019.89Z" fill="#ffff00"/><path d="M445.62,1013.11L438.20,1008.84L438.20,1017.38Z" fill="#ffff00"/><path d="M455.52,1010.23L448.10,1005.96L448.10,1014.50Z" fill="#ffff00"/><path d="M465.72,1007.80L458.30,1003.53L458.30,1012.07Z" fill="#ffff00"/><path d="M478.32,1004.13L470.90,999.86L470.90,1008.40Z" fill="#ffff00"/><path d="M488.82,1001.05L481.40,996.78L481.40,1005.32Z" fill="#ffff00"/><path d="M499.12,998.31L491.70,994.04L491.70,1002.58Z" fill="#ffff00"/><path d="M509.42,994.84L502.00,990.57L502.00,999.11Z" fill="#ffff00"/><path d="M522.12,991.34L514.70,987.07L514.70,995.61Z" fill="#ffff00"/><path d="M532.42,988.59L525.00,984.32L525.00,992.86Z" fill="#ffff00"/><path d="M542.42,985.49L535.00,981.22L535.00,989.76Z" fill="#ffff00"/><path d="M552.72,982.38L545.30,978.11L545.30,986.65Z" fill="#ffff00"/><path d="M563.02,978.21L555.60,973.94L555.60,982.48Z" fill="#ffff00"/><path d="M573.52,974.91L566.10,970.64L566.10,979.18Z" fill="#ffff00"/><path d="M585.62,970.35L578.20,966.08L578.20,974.62Z" fill="#ffff00"/><path d="M596.12,967.30L588.70,963.03L588.70,971.57Z" fill="#ffff00"/><path d="M606.42,964.14L599.00,959.87L599.00,968.41Z" fill="#ffff00"/><path d="M618.92,959.01L611.50,954.74L611.50,963.28Z" fill="#ffff00"/><polyline points="55.40,1088.02 60.40,1085.05 65.40,1082.54 70.40,1080.52 79.00,1078.09 84.00,1076.75 89.00,1075.47 94.00,1074.29 104.60,1072.14 114.60,1070.78 124.40,1068.65 137.30,1067.07 147.80,1065.88 157.60,1064.42 168.10,1062.86 178.10,1061.69 191.00,1060.14 201.00,1058.46 212.30,1056.54 223.80,1055.13 234.00,1053.86 244.50,1051.99 257.10,1049.64 267.60,1048.23 277.80,1046.90 288.30,1045.22 298.80,1043.48 309.30,1041.88 320.90,1040.10 331.40,1038.35 343.70,1036.21 354.20,1034.34 364.70,1032.39 375.20,1030.26 387.50,1027.82 397.90,1026.12 408.40,1021.59 418.40,1019.50 431.20,1016.43 441.70,1014.00 451.60,1011.12 461.80,1008.78 474.40,1005.18 484.90,1001.92 495.20,999.29 505.50,995.78 518.20,992.67 528.50,989.89 538.50,986.97 548.80,984.00 559.10,979.95 569.60,976.79 581.70,972.36 592.20,969.48 602.50,966.46 615.00,961.35" fill="none" stroke="#808000" stroke-width="1.8" stroke-dasharray="3.6 8.8"/><path d="M55.40,1084.17L58.73,1086.09L58.73,1089.94L55.40,1091.87L52.07,1089.94L52.07,1086.09Z" fill="#808000"/><path d="M60.40,1081.20L63.73,1083.12L63.73,1086.97L60.40,1088.90L57.07,1086.97L57.07,1083.12Z" fill="#808000"/><path d="M65.40,1078.69L68.73,1080.61L68.73,1084.46L65.40,1086.39L62.07,1084.46L62.07,1080.61Z" fill="#808000"/><path d="M70.40,1076.67L73.73,1078.60L73.73,1082.44L70.40,1084.37L67.07,1082.44L67.07,1078.60Z" fill="#808000"/><path d="M79.00,1074.24L82.33,1076.16L82.33,1080.01L79.00,1081.93L75.67,1080.01L75.67,1076.16Z" fill="#808000"/><path d="M84.00,1072.90L87.33,1074.83L87.33,1078.68L84.00,1080.60L80.67,1078.68L80.67,1074.83Z" fill="#808000"/><path d="M89.00,1071.62L92.33,1073.55L92.33,1077.40L89.00,1079.32L85.67,1077.40L85.67,1073.55Z" fill="#808000"/><path d="M94.00,1070.44L97.33,1072.36L97.33,1076.21L94.00,1078.14L90.67,1076.21L90.67,1072.36Z" fill="#808000"/><path d="M104.60,1068.29L107.93,1070.22L107.93,1074.07L104.60,1075.99L101.27,1074.07L101.27,1070.22Z" fill="#808000"/><path d="M114.60,1066.93L117.93,1068.86L117.93,1072.70L114.60,1074.63L111.27,1072.70L111.27,1068.86Z" fill="#808000"/><path d="M124.40,1064.80L127.73,1066.73L127.73,1070.58L124.40,1072.50L121.07,1070.58L121.07,1066.73Z" fill="#808000"/><path d="M137.30,1063.22L140.63,1065.15L140.63,1069.00L137.30,1070.92L133.97,1069.00L133.97,1065.15Z" fill="#808000"/><path d="M147.80,1062.03L151.13,1063.96L151.13,1067.81L147.80,1069.73L144.47,1067.81L144.47,1063.96Z" fill="#808000"/><path d="M157.60,1060.57L160.93,1062.50L160.93,1066.35L157.60,1068.27L154.27,1066.35L154.27,1062.50Z" fill="#808000"/><path d="M168.10,1059.01L171.43,1060.94L171.43,1064.79L168.10,1066.71L164.77,1064.79L164.77,1060.94Z" fill="#808000"/><path d="M178.10,1057.84L181.43,1059.76L181.43,1063.61L178.10,1065.54L174.77,1063.61L174.77,1059.76Z" fill="#808000"/><path d="M191.00,1056.29L194.33,1058.22L194.33,1062.07L191.00,1063.99L187.67,1062.07L187.67,1058.22Z" fill="#808000"/><path d="M201.00,1054.61L204.33,1056.54L204.33,1060.39L201.00,1062.31L197.67,1060.39L197.67,1056.54Z" fill="#808000"/><path d="M212.30,1052.69L215.63,1054.61L215.63,1058.46L212.30,1060.39L208.97,1058.46L208.97,1054.61Z" fill="#808000"/><path d="M223.80,1051.28L227.13,1053.21L227.13,1057.06L223.80,1058.98L220.47,1057.06L220.47,1053.21Z" fill="#808000"/><path d="M234.00,1050.01L237.33,1051.93L237.33,1055.78L234.00,1057.71L230.67,1055.78L230.67,1051.93Z" fill="#808000"/><path d="M244.50,1048.14L247.83,1050.07L247.83,1053.92L244.50,1055.84L241.17,1053.92L241.17,1050.07Z" fill="#808000"/><path d="M257.10,1045.79L260.43,1047.72L260.43,1051.57L257.10,1053.49L253.77,1051.57L253.77,1047.72Z" fill="#808000"/><path d="M267.60,1044.38L270.93,1046.31L270.93,1050.16L267.60,1052.08L264.27,1050.16L264.27,1046.31Z" fill="#808000"/><path d="M277.80,1043.05L281.13,1044.98L281.13,1048.83L277.80,1050.75L274.47,1048.83L274.47,1044.98Z" fill="#808000"/><path d="M288.30,1041.37L291.63,1043.29L291.63,1047.14L288.30,1049.07L284.97,1047.14L284.97,1043.29Z" fill="#808000"/><path d="M298.80,1039.63L302.13,1041.55L302.13,1045.40L298.80,1047.33L295.47,1045.40L295.47,1041.55Z" fill="#808000"/><path d="M309.30,1038.03L312.63,1039.96L312.63,1043.81L309.30,1045.73L305.97,1043.81L305.97,1039.96Z" fill="#808000"/><path d="M320.90,1036.25L324.23,1038.17L324.23,1042.02L320.90,1043.95L317.57,1042.02L317.57,1038.17Z" fill="#808000"/><path d="M331.40,1034.50L334.73,1036.43L334.73,1040.28L331.40,1042.20L328.07,1040.28L328.07,1036.43Z" fill="#808000"/><path d="M343.70,1032.36L347.03,1034.29L347.03,1038.14L343.70,1040.06L340.37,1038.14L340.37,1034.29Z" fill="#808000"/><path d="M354.20,1030.49L357.53,1032.41L357.53,1036.26L354.20,1038.19L350.87,1036.26L350.87,1032.41Z" fill="#808000"/><path d="M364.70,1028.54L368.03,1030.46L368.03,1034.31L364.70,1036.24L361.37,1034.31L361.37,1030.46Z" fill="#808000"/><path d="M375.20,1026.41L378.53,1028.33L378.53,1032.18L375.20,1034.11L371.87,1032.18L371.87,1028.33Z" fill="#808000"/><path d="M387.50,1023.97L390.83,1025.89L390.83,1029.74L387.50,1031.67L384.17,1029.74L384.17,1025.89Z" fill="#808000"/><path d="M397.90,1022.27L401.23,1024.20L401.23,1028.05L397.90,1029.97L394.57,1028.05L394.57,1024.20Z" fill="#808000"/><path d="M408.40,1017.74L411.73,1019.67L411.73,1023.52L408.40,1025.44L405.07,1023.52L405.07,1019.67Z" fill="#808000"/><path d="M418.40,1015.65L421.73,1017.57L421.73,1021.42L418.40,1023.35L415.07,1021.42L415.07,1017.57Z" fill="#808000"/><path d="M431.20,1012.58L434.53,1014.51L434.53,1018.36L431.20,1020.28L427.87,1018.36L427.87,1014.51Z" fill="#808000"/><path d="M441.70,1010.15L445.03,1012.07L445.03,1015.92L441.70,1017.85L438.37,1015.92L438.37,1012.07Z" fill="#808000"/><path d="M451.60,1007.27L454.93,1009.20L454.93,1013.05L451.60,1014.97L448.27,1013.05L448.27,1009.20Z" fill="#808000"/><path d="M461.80,1004.93L465.13,1006.86L465.13,1010.71L461.80,1012.63L458.47,1010.71L458.47,1006.86Z" fill="#808000"/><path d="M474.40,1001.33L477.73,1003.26L477.73,1007.11L474.40,1009.03L471.07,1007.11L471.07,1003.26Z" fill="#808000"/><path d="M484.90,998.07L488.23,999.99L488.23,1003.84L484.90,1005.77L481.57,1003.84L481.57,999.99Z" fill="#808000"/><path d="M495.20,995.44L498.53,997.36L498.53,1001.21L495.20,1003.14L491.87,1001.21L491.87,997.36Z" fill="#808000"/><path d="M505.50,991.93L508.83,993.86L508.83,997.71L505.50,999.63L502.17,997.71L502.17,993.86Z" fill="#808000"/><path d="M518.20,988.82L521.53,990.74L521.53,994.59L518.20,996.52L514.87,994.59L514.87,990.74Z" fill="#808000"/><path d="M528.50,986.04L531.83,987.96L531.83,991.81L528.50,993.74L525.17,991.81L525.17,987.96Z" fill="#808000"/><path d="M538.50,983.12L541.83,985.04L541.83,988.89L538.50,990.82L535.17,988.89L535.17,985.04Z" fill="#808000"/><path d="M548.80,980.15L552.13,982.07L552.13,985.92L548.80,987.85L545.47,985.92L545.47,982.07Z" fill="#808000"/><path d="M559.10,976.10L562.43,978.03L562.43,981.88L559.10,983.80L555.77,981.88L555.77,978.03Z" fill="#808000"/><path d="M569.60,972.94L572.93,974.86L572.93,978.71L569.60,980.64L566.27,978.71L566.27,974.86Z" fill="#808000"/><path d="M581.70,968.51L585.03,970.43L585.03,974.28L581.70,976.21L578.37,974.28L578.37,970.43Z" fill="#808000"/><path d="M592.20,965.63L595.53,967.56L595.53,971.41L592.20,973.33L588.87,971.41L588.87,967.56Z" fill="#808000"/><path d="M602.50,962.61L605.83,964.54L605.83,968.39L602.50,970.31L599.17,968.39L599.17,964.54Z" fill="#808000"/><path d="M615.00,957.50L618.33,959.43L618.33,963.28L615.00,965.20L611.67,963.28L611.67,959.43Z" fill="#808000"/><path d="M59.70,815.80h4.1M84.50,815.80h3.6" stroke="#000000" stroke-width="1.8"/><rect x="72.30" y="812.30" width="7.00" height="7.00" fill="#000000"/><text x="90.20" y="821.00" font-family="Liberation Serif" font-size="16"><tspan font-style="italic">b</tspan> =0.0104</text><path d="M173.10,815.80h4.1M197.90,815.80h3.6" stroke="#ff0000" stroke-width="1.8"/><circle cx="189.20" cy="815.80" r="3.68" fill="#ff0000"/><text x="203.60" y="821.00" font-family="Liberation Serif" font-size="16"><tspan font-style="italic">b</tspan> =0.1104</text><path d="M278.90,815.80h4.1M303.70,815.80h3.6" stroke="#00ff00" stroke-width="1.8"/><path d="M295.00,811.95L299.10,819.12L290.90,819.12Z" fill="#00ff00"/><text x="309.40" y="821.00" font-family="Liberation Serif" font-size="16"><tspan font-style="italic">b</tspan> =0.2104</text><path d="M384.10,815.80h4.1M408.90,815.80h3.6" stroke="#0000ff" stroke-width="1.8"/><path d="M400.20,819.65L404.30,812.47L396.11,812.47Z" fill="#0000ff"/><text x="414.60" y="821.00" font-family="Liberation Serif" font-size="16"><tspan font-style="italic">b</tspan> =0.3104</text><path d="M59.70,836.40h4.1M84.50,836.40h3.6" stroke="#00ffff" stroke-width="1.8"/><path d="M75.80,831.85L80.35,836.40L75.80,840.95L71.25,836.40Z" fill="#00ffff"/><text x="90.20" y="841.60" font-family="Liberation Serif" font-size="16"><tspan font-style="italic">b</tspan> =0.41044</text><path d="M173.10,836.40h4.1M197.90,836.40h3.6" stroke="#ff00ff" stroke-width="1.8"/><path d="M185.28,836.40L192.70,832.13L192.70,840.67Z" fill="#ff00ff"/><text x="203.60" y="841.60" font-family="Liberation Serif" font-size="16"><tspan font-style="italic">b</tspan> =0.5104</text><path d="M278.90,836.40h4.1M303.70,836.40h3.6" stroke="#ffff00" stroke-width="1.8"/><path d="M298.92,836.40L291.50,832.13L291.50,840.67Z" fill="#ffff00"/><text x="309.40" y="841.60" font-family="Liberation Serif" font-size="16"><tspan font-style="italic">b</tspan> =0.6104</text><path d="M384.10,836.40h4.1M408.90,836.40h3.6" stroke="#808000" stroke-width="1.8"/><path d="M400.20,832.55L403.53,834.48L403.53,838.32L400.20,840.25L396.87,838.32L396.87,834.48Z" fill="#808000"/><text x="414.60" y="841.60" font-family="Liberation Serif" font-size="16"><tspan font-style="italic">b</tspan> =0.7104</text></svg></body></html>
